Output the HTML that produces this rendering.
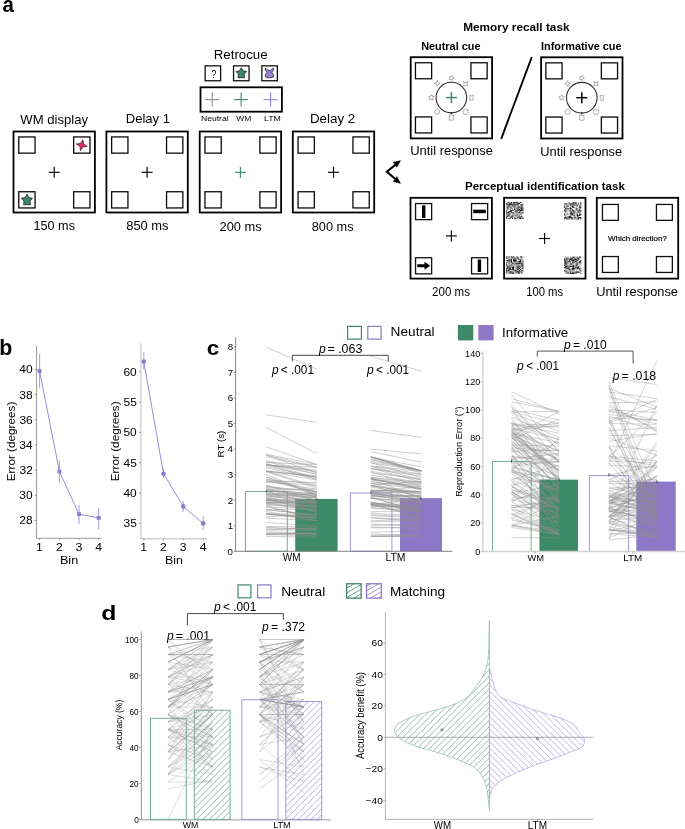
<!DOCTYPE html>
<html><head><meta charset="utf-8"><style>
html,body{margin:0;padding:0;background:#fff;width:685px;height:829px;overflow:hidden}
svg{display:block;will-change:transform}
text{font-family:"Liberation Sans", sans-serif}
</style></head><body>
<svg width="685" height="829" viewBox="0 0 685 829">
<defs><pattern id="hg" patternUnits="userSpaceOnUse" width="6.35" height="6.35"><path d="M-1,1 l2,-2 M0,6.35 l6.35,-6.35 M5.35,7.35 l2,-2" stroke="#5e9f83" stroke-width="0.75"/></pattern><pattern id="hp" patternUnits="userSpaceOnUse" width="6.35" height="6.35"><path d="M-1,1 l2,-2 M0,6.35 l6.35,-6.35 M5.35,7.35 l2,-2" stroke="#9b8fdc" stroke-width="0.75"/></pattern><pattern id="vg" patternUnits="userSpaceOnUse" width="6.3" height="6.3"><path d="M-1,1 l2,-2 M0,6.3 l6.3,-6.3 M5.3,7.3 l2,-2" stroke="#5e9f83" stroke-width="0.7"/></pattern><pattern id="vp" patternUnits="userSpaceOnUse" width="6.3" height="6.3"><path d="M-1,5.3 l2,2 M0,0 l6.3,6.3 M5.3,-1 l2,2" stroke="#9b8fdc" stroke-width="0.7"/></pattern><pattern id="lg" patternUnits="userSpaceOnUse" width="10" height="4.1" patternTransform="rotate(-30)"><path d="M0,2.05 h10" stroke="#3e8a68" stroke-width="0.75"/></pattern><pattern id="lp" patternUnits="userSpaceOnUse" width="10" height="4.1" patternTransform="rotate(-30)"><path d="M0,2.05 h10" stroke="#8d78c8" stroke-width="0.75"/></pattern></defs><text x="2.4" y="11.7" font-size="22" font-weight="bold" font-style="normal" fill="#000" textLength="11.37" lengthAdjust="spacingAndGlyphs" >a</text><rect x="13.5" y="131.5" width="81.4" height="81" fill="none" stroke="#000" stroke-width="1.8" /><rect x="18.75" y="136.95" width="16.3" height="16.2" fill="none" stroke="#0a0a0a" stroke-width="1.3" /><rect x="73.65" y="136.95" width="16.3" height="16.2" fill="none" stroke="#0a0a0a" stroke-width="1.3" /><rect x="18.75" y="191.75" width="16.3" height="16.2" fill="none" stroke="#0a0a0a" stroke-width="1.3" /><rect x="73.65" y="191.75" width="16.3" height="16.2" fill="none" stroke="#0a0a0a" stroke-width="1.3" /><line x1="48.7" y1="172.3" x2="59.7" y2="172.3" stroke="#000" stroke-width="1.15" /><line x1="54.2" y1="166.8" x2="54.2" y2="177.8" stroke="#000" stroke-width="1.15" /><rect x="106.4" y="131.5" width="81.4" height="81" fill="none" stroke="#000" stroke-width="1.8" /><rect x="111.65" y="136.95" width="16.3" height="16.2" fill="none" stroke="#0a0a0a" stroke-width="1.3" /><rect x="166.55" y="136.95" width="16.3" height="16.2" fill="none" stroke="#0a0a0a" stroke-width="1.3" /><rect x="111.65" y="191.75" width="16.3" height="16.2" fill="none" stroke="#0a0a0a" stroke-width="1.3" /><rect x="166.55" y="191.75" width="16.3" height="16.2" fill="none" stroke="#0a0a0a" stroke-width="1.3" /><line x1="141.6" y1="172.3" x2="152.6" y2="172.3" stroke="#000" stroke-width="1.15" /><line x1="147.1" y1="166.8" x2="147.1" y2="177.8" stroke="#000" stroke-width="1.15" /><rect x="199.7" y="131.5" width="81.4" height="81" fill="none" stroke="#000" stroke-width="1.8" /><rect x="204.95" y="136.95" width="16.3" height="16.2" fill="none" stroke="#0a0a0a" stroke-width="1.3" /><rect x="259.85" y="136.95" width="16.3" height="16.2" fill="none" stroke="#0a0a0a" stroke-width="1.3" /><rect x="204.95" y="191.75" width="16.3" height="16.2" fill="none" stroke="#0a0a0a" stroke-width="1.3" /><rect x="259.85" y="191.75" width="16.3" height="16.2" fill="none" stroke="#0a0a0a" stroke-width="1.3" /><line x1="234.9" y1="172.3" x2="245.9" y2="172.3" stroke="#3e8a68" stroke-width="1.15" /><line x1="240.4" y1="166.8" x2="240.4" y2="177.8" stroke="#3e8a68" stroke-width="1.15" /><rect x="292.8" y="131.5" width="81.4" height="81" fill="none" stroke="#000" stroke-width="1.8" /><rect x="298.05" y="136.95" width="16.3" height="16.2" fill="none" stroke="#0a0a0a" stroke-width="1.3" /><rect x="352.95" y="136.95" width="16.3" height="16.2" fill="none" stroke="#0a0a0a" stroke-width="1.3" /><rect x="298.05" y="191.75" width="16.3" height="16.2" fill="none" stroke="#0a0a0a" stroke-width="1.3" /><rect x="352.95" y="191.75" width="16.3" height="16.2" fill="none" stroke="#0a0a0a" stroke-width="1.3" /><line x1="328" y1="172.3" x2="339" y2="172.3" stroke="#000" stroke-width="1.15" /><line x1="333.5" y1="166.8" x2="333.5" y2="177.8" stroke="#000" stroke-width="1.15" /><text x="20.34" y="123.6" font-size="13" font-weight="normal" font-style="normal" fill="#000" textLength="67.68" lengthAdjust="spacingAndGlyphs" >WM display</text><text x="125.73" y="123.3" font-size="13" font-weight="normal" font-style="normal" fill="#000" textLength="44.31" lengthAdjust="spacingAndGlyphs" >Delay 1</text><text x="309.9" y="123.1" font-size="13" font-weight="normal" font-style="normal" fill="#000" textLength="45.37" lengthAdjust="spacingAndGlyphs" >Delay 2</text><text x="33.54" y="230.2" font-size="13" font-weight="normal" font-style="normal" fill="#000" textLength="41.42" lengthAdjust="spacingAndGlyphs" >150 ms</text><text x="126.24" y="230.4" font-size="13" font-weight="normal" font-style="normal" fill="#000" textLength="42.22" lengthAdjust="spacingAndGlyphs" >850 ms</text><text x="219.56" y="230.8" font-size="13" font-weight="normal" font-style="normal" fill="#000" textLength="42.01" lengthAdjust="spacingAndGlyphs" >200 ms</text><text x="311.74" y="230.6" font-size="13" font-weight="normal" font-style="normal" fill="#000" textLength="41.92" lengthAdjust="spacingAndGlyphs" >800 ms</text><path d="M82.96,139.74 L83.48,144.09 L87.16,146.46 L82.81,146.98 L80.44,150.66 L79.92,146.31 L76.24,143.94 L80.59,143.42Z" fill="#e8226c" stroke="#222" stroke-width="0.7" stroke-linejoin="round"/><path d="M27,194.3 L28.82,197.59 L32.52,198.31 L29.95,201.06 L30.41,204.79 L27,204.62 L23.59,204.79 L24.05,201.06 L21.48,198.31 L25.18,197.59Z" fill="#3e8a68" stroke="#1a1a1a" stroke-width="0.8" stroke-linejoin="round"/><text x="213.71" y="58.7" font-size="12.5" font-weight="normal" font-style="normal" fill="#000" textLength="53.98" lengthAdjust="spacingAndGlyphs" >Retrocue</text><rect x="205.15" y="65.85" width="15.5" height="14.9" fill="none" stroke="#111" stroke-width="1.3" /><rect x="233.55" y="65.85" width="15.5" height="14.9" fill="none" stroke="#111" stroke-width="1.3" /><rect x="261.85" y="65.85" width="15.5" height="14.9" fill="none" stroke="#111" stroke-width="1.3" /><text x="211.45" y="77.6" font-size="11" font-weight="normal" font-style="normal" fill="#000" textLength="4.77" lengthAdjust="spacingAndGlyphs" >?</text><path d="M241.3,67.7 L243.06,70.87 L246.63,71.57 L244.15,74.23 L244.59,77.83 L241.3,77.67 L238.01,77.83 L238.45,74.23 L235.97,71.57 L239.54,70.87Z" fill="#3e8a68" stroke="#1a1a1a" stroke-width="0.8" stroke-linejoin="round"/><path d="M264.9,68.9 Q265.2,67.9 266.1,68.4 Q267.6,70.6 269.4,70.7 Q271.2,70.6 272.7,68.4 Q273.6,67.9 273.9,68.9 Q273.8,70.4 271.8,72.3 Q274.3,74.6 273.3,77.0 Q269.4,79.0 265.5,77.0 Q264.5,74.6 267.0,72.3 Q265.0,70.4 264.9,68.9Z" fill="#9580d4" stroke="#1a1a1a" stroke-width="0.7" stroke-linejoin="round"/><rect x="200.5" y="87.3" width="81.4" height="24.4" fill="none" stroke="#000" stroke-width="1.8" /><line x1="205.2" y1="99.6" x2="219.2" y2="99.6" stroke="#8a8a8a" stroke-width="1.1" /><line x1="212.2" y1="92.6" x2="212.2" y2="106.6" stroke="#8a8a8a" stroke-width="1.1" /><line x1="234.1" y1="99.6" x2="248.1" y2="99.6" stroke="#3e8a68" stroke-width="1.1" /><line x1="241.1" y1="92.6" x2="241.1" y2="106.6" stroke="#3e8a68" stroke-width="1.1" /><line x1="263.6" y1="99.6" x2="277.6" y2="99.6" stroke="#9580d8" stroke-width="1.1" /><line x1="270.6" y1="92.6" x2="270.6" y2="106.6" stroke="#9580d8" stroke-width="1.1" /><text x="201" y="121.3" font-size="8" font-weight="normal" font-style="normal" fill="#000" textLength="27.57" lengthAdjust="spacingAndGlyphs" >Neutral</text><text x="236.36" y="121.3" font-size="8" font-weight="normal" font-style="normal" fill="#000" textLength="15.03" lengthAdjust="spacingAndGlyphs" >WM</text><text x="264.01" y="121.3" font-size="8" font-weight="normal" font-style="normal" fill="#000" textLength="16.89" lengthAdjust="spacingAndGlyphs" >LTM</text><path d="M395.6,164.6 L386.9,171.8 L395.6,179.3" fill="none" stroke="#000" stroke-width="2.1" stroke-linejoin="miter"/><path d="M400.6,160.6 L393.1,162.3 L396.9,167.3Z" fill="#000" stroke="#000" stroke-width="0.4" stroke-linejoin="miter"/><path d="M400.6,183.4 L396.9,176.6 L393.2,181.6Z" fill="#000" stroke="#000" stroke-width="0.4" stroke-linejoin="miter"/><text x="463.21" y="30.8" font-size="11.5" font-weight="bold" font-style="normal" fill="#000" textLength="106.38" lengthAdjust="spacingAndGlyphs" >Memory recall task</text><text x="421.17" y="49.9" font-size="11" font-weight="bold" font-style="normal" fill="#000" textLength="59.3" lengthAdjust="spacingAndGlyphs" >Neutral cue</text><text x="541.07" y="50" font-size="11" font-weight="bold" font-style="normal" fill="#000" textLength="80.5" lengthAdjust="spacingAndGlyphs" >Informative cue</text><rect x="410.7" y="57.2" width="81.4" height="81.2" fill="none" stroke="#000" stroke-width="1.8" /><rect x="415.45" y="62.75" width="16.2" height="16" fill="none" stroke="#0a0a0a" stroke-width="1.3" /><rect x="470.95" y="62.75" width="16.2" height="16" fill="none" stroke="#0a0a0a" stroke-width="1.3" /><rect x="415.45" y="116.95" width="16.2" height="16" fill="none" stroke="#0a0a0a" stroke-width="1.3" /><rect x="470.95" y="116.95" width="16.2" height="16" fill="none" stroke="#0a0a0a" stroke-width="1.3" /><circle cx="451.4" cy="97.6" r="15.3" fill="none" stroke="#2a2a2a" stroke-width="1.05"/><line x1="445.9" y1="97.6" x2="456.9" y2="97.6" stroke="#3e8a68" stroke-width="1.5" /><line x1="451.4" y1="92.1" x2="451.4" y2="103.1" stroke="#3e8a68" stroke-width="1.5" /><line x1="451.4" y1="112.2" x2="451.4" y2="114.2" stroke="#222" stroke-width="1.3" /><path d="M452.32,75.46 L452.48,77.27 L454.1,78.09 L452.42,78.8 L452.14,80.6 L450.96,79.22 L449.16,79.51 L450.1,77.95 L449.27,76.34 L451.04,76.75Z" fill="none" stroke="#7a7a7a" stroke-width="0.6" stroke-linejoin="round"/><path d="M463.31,81.09 L465.01,82.39 L466.21,82.39 L467.91,81.09 L466.91,83.39 L467.91,85.69 L463.31,85.69 L464.31,83.39Z" fill="none" stroke="#7a7a7a" stroke-width="0.6" stroke-linejoin="round"/><path d="M469.7,95 Q471.5,96.8 473.3,95 Q473.7,97 472.7,97.6 Q473.9,99.2 473.1,100.2 L469.9,100.2 Q469.1,99.2 470.3,97.6 Q469.3,97 469.7,95Z" fill="none" stroke="#7a7a7a" stroke-width="0.6" stroke-linejoin="round"/><path d="M463.21,110.01 Q465.61,108.81 468.01,110.01 Q468.41,112.31 467.41,114.21 L463.81,114.21 Q462.81,112.31 463.21,110.01Z" fill="none" stroke="#7a7a7a" stroke-width="0.6" stroke-linejoin="round"/><path d="M449.3,115.1 L453.5,115.1 L453.7,119.9 Q451.4,120.7 449.1,119.9Z" fill="none" stroke="#7a7a7a" stroke-width="0.6" stroke-linejoin="round"/><path d="M437.19,109.01 L438.54,109.95 L439.85,110.95 L439.37,112.52 L438.83,114.08 L437.19,114.11 L435.54,114.08 L435,112.52 L434.52,110.95 L435.84,109.95Z" fill="none" stroke="#7a7a7a" stroke-width="0.6" stroke-linejoin="round"/><path d="M431.3,94.6 L432.24,96.31 L434.15,96.67 L432.82,98.09 L433.06,100.03 L431.3,99.2 L429.54,100.03 L429.78,98.09 L428.45,96.67 L430.36,96.31Z" fill="none" stroke="#7a7a7a" stroke-width="0.6" stroke-linejoin="round"/><path d="M437.19,80.39 L438.04,82.54 L440.19,83.39 L438.04,84.24 L437.19,86.39 L436.34,84.24 L434.19,83.39 L436.34,82.54Z" fill="none" stroke="#7a7a7a" stroke-width="0.6" stroke-linejoin="round"/><rect x="541.1" y="57.3" width="81.4" height="81.2" fill="none" stroke="#000" stroke-width="1.8" /><rect x="545.85" y="62.85" width="16.2" height="16" fill="none" stroke="#0a0a0a" stroke-width="1.3" /><rect x="601.35" y="62.85" width="16.2" height="16" fill="none" stroke="#0a0a0a" stroke-width="1.3" /><rect x="545.85" y="117.05" width="16.2" height="16" fill="none" stroke="#0a0a0a" stroke-width="1.3" /><rect x="601.35" y="117.05" width="16.2" height="16" fill="none" stroke="#0a0a0a" stroke-width="1.3" /><circle cx="581.8" cy="97.7" r="15.3" fill="none" stroke="#2a2a2a" stroke-width="1.05"/><line x1="576.3" y1="97.7" x2="587.3" y2="97.7" stroke="#000" stroke-width="1.5" /><line x1="581.8" y1="92.2" x2="581.8" y2="103.2" stroke="#000" stroke-width="1.5" /><line x1="581.8" y1="112.3" x2="581.8" y2="114.3" stroke="#222" stroke-width="1.3" /><path d="M582.72,75.56 L582.88,77.37 L584.5,78.19 L582.82,78.9 L582.54,80.7 L581.36,79.32 L579.56,79.61 L580.5,78.05 L579.67,76.44 L581.44,76.85Z" fill="none" stroke="#7a7a7a" stroke-width="0.6" stroke-linejoin="round"/><path d="M593.71,81.19 L595.41,82.49 L596.61,82.49 L598.31,81.19 L597.31,83.49 L598.31,85.79 L593.71,85.79 L594.71,83.49Z" fill="none" stroke="#7a7a7a" stroke-width="0.6" stroke-linejoin="round"/><path d="M600.1,95.1 Q601.9,96.9 603.7,95.1 Q604.1,97.1 603.1,97.7 Q604.3,99.3 603.5,100.3 L600.3,100.3 Q599.5,99.3 600.7,97.7 Q599.7,97.1 600.1,95.1Z" fill="none" stroke="#7a7a7a" stroke-width="0.6" stroke-linejoin="round"/><path d="M593.61,110.11 Q596.01,108.91 598.41,110.11 Q598.81,112.41 597.81,114.31 L594.21,114.31 Q593.21,112.41 593.61,110.11Z" fill="none" stroke="#7a7a7a" stroke-width="0.6" stroke-linejoin="round"/><path d="M579.7,115.2 L583.9,115.2 L584.1,120 Q581.8,120.8 579.5,120Z" fill="none" stroke="#7a7a7a" stroke-width="0.6" stroke-linejoin="round"/><path d="M567.59,109.11 L568.94,110.05 L570.25,111.05 L569.77,112.62 L569.23,114.18 L567.59,114.21 L565.94,114.18 L565.4,112.62 L564.92,111.05 L566.24,110.05Z" fill="none" stroke="#7a7a7a" stroke-width="0.6" stroke-linejoin="round"/><path d="M561.7,94.7 L562.64,96.41 L564.55,96.77 L563.22,98.19 L563.46,100.13 L561.7,99.3 L559.94,100.13 L560.18,98.19 L558.85,96.77 L560.76,96.41Z" fill="none" stroke="#7a7a7a" stroke-width="0.6" stroke-linejoin="round"/><path d="M567.59,80.49 L568.44,82.64 L570.59,83.49 L568.44,84.34 L567.59,86.49 L566.74,84.34 L564.59,83.49 L566.74,82.64Z" fill="none" stroke="#7a7a7a" stroke-width="0.6" stroke-linejoin="round"/><line x1="531.8" y1="57" x2="501.2" y2="138.8" stroke="#000" stroke-width="1.9" /><text x="410.2" y="154.7" font-size="13" font-weight="normal" font-style="normal" fill="#000" textLength="82.67" lengthAdjust="spacingAndGlyphs" >Until response</text><text x="540.31" y="155.5" font-size="13" font-weight="normal" font-style="normal" fill="#000" textLength="81.86" lengthAdjust="spacingAndGlyphs" >Until response</text><text x="465.03" y="190" font-size="11.5" font-weight="bold" font-style="normal" fill="#000" textLength="159.76" lengthAdjust="spacingAndGlyphs" >Perceptual identification task</text><rect x="410.5" y="197.8" width="81.4" height="80.8" fill="none" stroke="#000" stroke-width="1.8" /><rect x="504.1" y="197.8" width="81.4" height="80.8" fill="none" stroke="#000" stroke-width="1.8" /><rect x="596.8" y="197.8" width="81.4" height="80.8" fill="none" stroke="#000" stroke-width="1.8" /><rect x="415.55" y="203.55" width="16.1" height="16.1" fill="none" stroke="#111" stroke-width="1.3" /><rect x="471.55" y="203.55" width="16.1" height="16.1" fill="none" stroke="#111" stroke-width="1.3" /><rect x="415.55" y="257.75" width="16.1" height="16.1" fill="none" stroke="#111" stroke-width="1.3" /><rect x="471.55" y="257.75" width="16.1" height="16.1" fill="none" stroke="#111" stroke-width="1.3" /><rect x="422" y="205.4" width="3.4" height="12.5" fill="#000"/><rect x="473.2" y="209.7" width="12.6" height="3.5" fill="#000"/><rect x="477.7" y="259.5" width="3.4" height="12.5" fill="#000"/><path d="M417.3,264.3 H424.5 V261.8 L430.3,265.8 L424.5,269.8 V267.3 H417.3Z" fill="#000"/><line x1="445.9" y1="235.9" x2="456.9" y2="235.9" stroke="#000" stroke-width="1.15" /><line x1="451.4" y1="230.4" x2="451.4" y2="241.4" stroke="#000" stroke-width="1.15" /><rect x="507.35" y="201.9" width="2.3" height="1.15" fill="#666"/><rect x="510.8" y="201.9" width="1.15" height="1.15" fill="#000"/><rect x="511.95" y="201.9" width="1.15" height="1.15" fill="#ccc"/><rect x="513.1" y="201.9" width="1.15" height="1.15" fill="#333"/><rect x="514.25" y="201.9" width="1.15" height="1.15" fill="#000"/><rect x="515.4" y="201.9" width="1.15" height="1.15" fill="#333"/><rect x="516.55" y="201.9" width="1.15" height="1.15" fill="#000"/><rect x="517.7" y="201.9" width="1.15" height="1.15" fill="#666"/><rect x="518.85" y="201.9" width="1.15" height="1.15" fill="#ccc"/><rect x="520" y="201.9" width="1.15" height="1.15" fill="#333"/><rect x="521.15" y="201.9" width="1.15" height="1.15" fill="#999"/><rect x="506.2" y="203.05" width="1.15" height="1.15" fill="#000"/><rect x="508.5" y="203.05" width="1.15" height="1.15" fill="#333"/><rect x="509.65" y="203.05" width="1.15" height="1.15" fill="#000"/><rect x="510.8" y="203.05" width="1.15" height="1.15" fill="#333"/><rect x="511.95" y="203.05" width="1.15" height="1.15" fill="#999"/><rect x="513.1" y="203.05" width="1.15" height="1.15" fill="#666"/><rect x="514.25" y="203.05" width="1.15" height="1.15" fill="#333"/><rect x="515.4" y="203.05" width="1.15" height="1.15" fill="#999"/><rect x="516.55" y="203.05" width="1.15" height="1.15" fill="#333"/><rect x="517.7" y="203.05" width="1.15" height="1.15" fill="#000"/><rect x="518.85" y="203.05" width="1.15" height="1.15" fill="#333"/><rect x="522.3" y="203.05" width="1.15" height="1.15" fill="#ccc"/><rect x="506.2" y="204.2" width="2.3" height="1.15" fill="#333"/><rect x="508.5" y="204.2" width="2.3" height="1.15" fill="#000"/><rect x="510.8" y="204.2" width="4.6" height="1.15" fill="#333"/><rect x="515.4" y="204.2" width="2.3" height="1.15" fill="#666"/><rect x="517.7" y="204.2" width="1.15" height="1.15" fill="#333"/><rect x="520" y="204.2" width="3.45" height="1.15" fill="#333"/><rect x="506.2" y="205.35" width="1.15" height="1.15" fill="#999"/><rect x="507.35" y="205.35" width="1.15" height="1.15" fill="#666"/><rect x="508.5" y="205.35" width="1.15" height="1.15" fill="#000"/><rect x="509.65" y="205.35" width="1.15" height="1.15" fill="#666"/><rect x="510.8" y="205.35" width="1.15" height="1.15" fill="#999"/><rect x="511.95" y="205.35" width="2.3" height="1.15" fill="#333"/><rect x="514.25" y="205.35" width="1.15" height="1.15" fill="#666"/><rect x="515.4" y="205.35" width="1.15" height="1.15" fill="#000"/><rect x="516.55" y="205.35" width="2.3" height="1.15" fill="#666"/><rect x="521.15" y="205.35" width="1.15" height="1.15" fill="#000"/><rect x="506.2" y="206.5" width="1.15" height="1.15" fill="#666"/><rect x="507.35" y="206.5" width="1.15" height="1.15" fill="#000"/><rect x="508.5" y="206.5" width="3.45" height="1.15" fill="#666"/><rect x="511.95" y="206.5" width="1.15" height="1.15" fill="#ccc"/><rect x="513.1" y="206.5" width="1.15" height="1.15" fill="#666"/><rect x="514.25" y="206.5" width="1.15" height="1.15" fill="#333"/><rect x="515.4" y="206.5" width="2.3" height="1.15" fill="#ccc"/><rect x="517.7" y="206.5" width="1.15" height="1.15" fill="#333"/><rect x="518.85" y="206.5" width="1.15" height="1.15" fill="#000"/><rect x="520" y="206.5" width="1.15" height="1.15" fill="#666"/><rect x="521.15" y="206.5" width="1.15" height="1.15" fill="#000"/><rect x="522.3" y="206.5" width="1.15" height="1.15" fill="#666"/><rect x="506.2" y="207.65" width="1.15" height="1.15" fill="#999"/><rect x="507.35" y="207.65" width="1.15" height="1.15" fill="#000"/><rect x="509.65" y="207.65" width="1.15" height="1.15" fill="#999"/><rect x="510.8" y="207.65" width="1.15" height="1.15" fill="#666"/><rect x="511.95" y="207.65" width="1.15" height="1.15" fill="#999"/><rect x="514.25" y="207.65" width="1.15" height="1.15" fill="#000"/><rect x="515.4" y="207.65" width="1.15" height="1.15" fill="#ccc"/><rect x="516.55" y="207.65" width="1.15" height="1.15" fill="#000"/><rect x="517.7" y="207.65" width="1.15" height="1.15" fill="#333"/><rect x="520" y="207.65" width="1.15" height="1.15" fill="#333"/><rect x="521.15" y="207.65" width="1.15" height="1.15" fill="#000"/><rect x="522.3" y="207.65" width="1.15" height="1.15" fill="#333"/><rect x="506.2" y="208.8" width="1.15" height="1.15" fill="#ccc"/><rect x="507.35" y="208.8" width="1.15" height="1.15" fill="#666"/><rect x="509.65" y="208.8" width="1.15" height="1.15" fill="#666"/><rect x="511.95" y="208.8" width="1.15" height="1.15" fill="#666"/><rect x="513.1" y="208.8" width="1.15" height="1.15" fill="#ccc"/><rect x="514.25" y="208.8" width="1.15" height="1.15" fill="#000"/><rect x="516.55" y="208.8" width="2.3" height="1.15" fill="#666"/><rect x="518.85" y="208.8" width="1.15" height="1.15" fill="#000"/><rect x="520" y="208.8" width="1.15" height="1.15" fill="#999"/><rect x="521.15" y="208.8" width="1.15" height="1.15" fill="#000"/><rect x="522.3" y="208.8" width="1.15" height="1.15" fill="#333"/><rect x="506.2" y="209.95" width="1.15" height="1.15" fill="#666"/><rect x="509.65" y="209.95" width="1.15" height="1.15" fill="#666"/><rect x="510.8" y="209.95" width="1.15" height="1.15" fill="#333"/><rect x="511.95" y="209.95" width="2.3" height="1.15" fill="#666"/><rect x="515.4" y="209.95" width="1.15" height="1.15" fill="#000"/><rect x="516.55" y="209.95" width="3.45" height="1.15" fill="#666"/><rect x="520" y="209.95" width="1.15" height="1.15" fill="#333"/><rect x="521.15" y="209.95" width="1.15" height="1.15" fill="#000"/><rect x="522.3" y="209.95" width="1.15" height="1.15" fill="#333"/><rect x="506.2" y="211.1" width="1.15" height="1.15" fill="#666"/><rect x="507.35" y="211.1" width="1.15" height="1.15" fill="#ccc"/><rect x="508.5" y="211.1" width="1.15" height="1.15" fill="#333"/><rect x="509.65" y="211.1" width="2.3" height="1.15" fill="#000"/><rect x="514.25" y="211.1" width="1.15" height="1.15" fill="#999"/><rect x="515.4" y="211.1" width="1.15" height="1.15" fill="#000"/><rect x="516.55" y="211.1" width="1.15" height="1.15" fill="#333"/><rect x="518.85" y="211.1" width="2.3" height="1.15" fill="#666"/><rect x="521.15" y="211.1" width="1.15" height="1.15" fill="#ccc"/><rect x="522.3" y="211.1" width="1.15" height="1.15" fill="#999"/><rect x="506.2" y="212.25" width="1.15" height="1.15" fill="#333"/><rect x="507.35" y="212.25" width="2.3" height="1.15" fill="#000"/><rect x="509.65" y="212.25" width="1.15" height="1.15" fill="#ccc"/><rect x="510.8" y="212.25" width="1.15" height="1.15" fill="#666"/><rect x="511.95" y="212.25" width="2.3" height="1.15" fill="#333"/><rect x="515.4" y="212.25" width="1.15" height="1.15" fill="#333"/><rect x="516.55" y="212.25" width="1.15" height="1.15" fill="#999"/><rect x="517.7" y="212.25" width="1.15" height="1.15" fill="#000"/><rect x="518.85" y="212.25" width="1.15" height="1.15" fill="#333"/><rect x="520" y="212.25" width="1.15" height="1.15" fill="#999"/><rect x="521.15" y="212.25" width="1.15" height="1.15" fill="#666"/><rect x="522.3" y="212.25" width="1.15" height="1.15" fill="#333"/><rect x="506.2" y="213.4" width="1.15" height="1.15" fill="#000"/><rect x="507.35" y="213.4" width="1.15" height="1.15" fill="#999"/><rect x="508.5" y="213.4" width="1.15" height="1.15" fill="#666"/><rect x="509.65" y="213.4" width="1.15" height="1.15" fill="#333"/><rect x="510.8" y="213.4" width="1.15" height="1.15" fill="#ccc"/><rect x="513.1" y="213.4" width="1.15" height="1.15" fill="#333"/><rect x="515.4" y="213.4" width="2.3" height="1.15" fill="#ccc"/><rect x="517.7" y="213.4" width="1.15" height="1.15" fill="#666"/><rect x="518.85" y="213.4" width="1.15" height="1.15" fill="#ccc"/><rect x="520" y="213.4" width="2.3" height="1.15" fill="#666"/><rect x="522.3" y="213.4" width="1.15" height="1.15" fill="#ccc"/><rect x="506.2" y="214.55" width="1.15" height="1.15" fill="#999"/><rect x="507.35" y="214.55" width="1.15" height="1.15" fill="#333"/><rect x="508.5" y="214.55" width="1.15" height="1.15" fill="#000"/><rect x="509.65" y="214.55" width="1.15" height="1.15" fill="#999"/><rect x="511.95" y="214.55" width="1.15" height="1.15" fill="#333"/><rect x="513.1" y="214.55" width="1.15" height="1.15" fill="#ccc"/><rect x="514.25" y="214.55" width="1.15" height="1.15" fill="#666"/><rect x="515.4" y="214.55" width="1.15" height="1.15" fill="#333"/><rect x="516.55" y="214.55" width="1.15" height="1.15" fill="#000"/><rect x="517.7" y="214.55" width="1.15" height="1.15" fill="#ccc"/><rect x="518.85" y="214.55" width="1.15" height="1.15" fill="#666"/><rect x="506.2" y="215.7" width="1.15" height="1.15" fill="#666"/><rect x="507.35" y="215.7" width="1.15" height="1.15" fill="#000"/><rect x="508.5" y="215.7" width="1.15" height="1.15" fill="#666"/><rect x="510.8" y="215.7" width="1.15" height="1.15" fill="#000"/><rect x="511.95" y="215.7" width="2.3" height="1.15" fill="#666"/><rect x="515.4" y="215.7" width="1.15" height="1.15" fill="#666"/><rect x="516.55" y="215.7" width="1.15" height="1.15" fill="#ccc"/><rect x="517.7" y="215.7" width="3.45" height="1.15" fill="#666"/><rect x="521.15" y="215.7" width="1.15" height="1.15" fill="#333"/><rect x="506.2" y="216.85" width="1.15" height="1.15" fill="#000"/><rect x="507.35" y="216.85" width="1.15" height="1.15" fill="#ccc"/><rect x="509.65" y="216.85" width="3.45" height="1.15" fill="#666"/><rect x="513.1" y="216.85" width="1.15" height="1.15" fill="#ccc"/><rect x="514.25" y="216.85" width="1.15" height="1.15" fill="#666"/><rect x="516.55" y="216.85" width="4.6" height="1.15" fill="#666"/><rect x="521.15" y="216.85" width="1.15" height="1.15" fill="#999"/><rect x="522.3" y="216.85" width="1.15" height="1.15" fill="#666"/><rect x="506.2" y="218" width="1.15" height="1.15" fill="#333"/><rect x="507.35" y="218" width="1.15" height="1.15" fill="#ccc"/><rect x="508.5" y="218" width="2.3" height="1.15" fill="#666"/><rect x="511.95" y="218" width="1.15" height="1.15" fill="#333"/><rect x="514.25" y="218" width="2.3" height="1.15" fill="#333"/><rect x="516.55" y="218" width="1.15" height="1.15" fill="#666"/><rect x="517.7" y="218" width="1.15" height="1.15" fill="#ccc"/><rect x="518.85" y="218" width="1.15" height="1.15" fill="#666"/><rect x="520" y="218" width="1.15" height="1.15" fill="#000"/><rect x="521.15" y="218" width="1.15" height="1.15" fill="#999"/><rect x="522.3" y="218" width="1.15" height="1.15" fill="#333"/><rect x="567.55" y="202.2" width="1.15" height="1.15" fill="#999"/><rect x="568.7" y="202.2" width="1.15" height="1.15" fill="#666"/><rect x="572.15" y="202.2" width="1.15" height="1.15" fill="#666"/><rect x="573.3" y="202.2" width="1.15" height="1.15" fill="#000"/><rect x="574.45" y="202.2" width="2.3" height="1.15" fill="#333"/><rect x="577.9" y="202.2" width="1.15" height="1.15" fill="#ccc"/><rect x="580.2" y="202.2" width="1.15" height="1.15" fill="#333"/><rect x="564.1" y="203.35" width="2.3" height="1.15" fill="#333"/><rect x="566.4" y="203.35" width="1.15" height="1.15" fill="#000"/><rect x="567.55" y="203.35" width="1.15" height="1.15" fill="#ccc"/><rect x="568.7" y="203.35" width="2.3" height="1.15" fill="#333"/><rect x="571" y="203.35" width="1.15" height="1.15" fill="#000"/><rect x="572.15" y="203.35" width="1.15" height="1.15" fill="#333"/><rect x="573.3" y="203.35" width="1.15" height="1.15" fill="#000"/><rect x="574.45" y="203.35" width="1.15" height="1.15" fill="#666"/><rect x="575.6" y="203.35" width="1.15" height="1.15" fill="#333"/><rect x="576.75" y="203.35" width="1.15" height="1.15" fill="#ccc"/><rect x="577.9" y="203.35" width="1.15" height="1.15" fill="#333"/><rect x="580.2" y="203.35" width="1.15" height="1.15" fill="#000"/><rect x="564.1" y="204.5" width="1.15" height="1.15" fill="#999"/><rect x="565.25" y="204.5" width="1.15" height="1.15" fill="#ccc"/><rect x="566.4" y="204.5" width="1.15" height="1.15" fill="#666"/><rect x="567.55" y="204.5" width="1.15" height="1.15" fill="#999"/><rect x="569.85" y="204.5" width="1.15" height="1.15" fill="#000"/><rect x="572.15" y="204.5" width="2.3" height="1.15" fill="#333"/><rect x="574.45" y="204.5" width="1.15" height="1.15" fill="#666"/><rect x="575.6" y="204.5" width="1.15" height="1.15" fill="#000"/><rect x="576.75" y="204.5" width="1.15" height="1.15" fill="#666"/><rect x="577.9" y="204.5" width="1.15" height="1.15" fill="#999"/><rect x="579.05" y="204.5" width="1.15" height="1.15" fill="#666"/><rect x="580.2" y="204.5" width="1.15" height="1.15" fill="#999"/><rect x="564.1" y="205.65" width="1.15" height="1.15" fill="#000"/><rect x="566.4" y="205.65" width="1.15" height="1.15" fill="#666"/><rect x="567.55" y="205.65" width="1.15" height="1.15" fill="#000"/><rect x="571" y="205.65" width="1.15" height="1.15" fill="#666"/><rect x="572.15" y="205.65" width="1.15" height="1.15" fill="#000"/><rect x="573.3" y="205.65" width="1.15" height="1.15" fill="#666"/><rect x="576.75" y="205.65" width="1.15" height="1.15" fill="#666"/><rect x="579.05" y="205.65" width="2.3" height="1.15" fill="#666"/><rect x="564.1" y="206.8" width="1.15" height="1.15" fill="#333"/><rect x="565.25" y="206.8" width="2.3" height="1.15" fill="#999"/><rect x="569.85" y="206.8" width="1.15" height="1.15" fill="#666"/><rect x="571" y="206.8" width="1.15" height="1.15" fill="#ccc"/><rect x="572.15" y="206.8" width="2.3" height="1.15" fill="#333"/><rect x="575.6" y="206.8" width="1.15" height="1.15" fill="#999"/><rect x="577.9" y="206.8" width="1.15" height="1.15" fill="#ccc"/><rect x="579.05" y="206.8" width="2.3" height="1.15" fill="#333"/><rect x="565.25" y="207.95" width="1.15" height="1.15" fill="#000"/><rect x="566.4" y="207.95" width="1.15" height="1.15" fill="#666"/><rect x="567.55" y="207.95" width="1.15" height="1.15" fill="#000"/><rect x="568.7" y="207.95" width="1.15" height="1.15" fill="#999"/><rect x="569.85" y="207.95" width="1.15" height="1.15" fill="#000"/><rect x="571" y="207.95" width="1.15" height="1.15" fill="#666"/><rect x="575.6" y="207.95" width="1.15" height="1.15" fill="#333"/><rect x="576.75" y="207.95" width="1.15" height="1.15" fill="#666"/><rect x="579.05" y="207.95" width="2.3" height="1.15" fill="#999"/><rect x="564.1" y="209.1" width="1.15" height="1.15" fill="#999"/><rect x="565.25" y="209.1" width="1.15" height="1.15" fill="#333"/><rect x="566.4" y="209.1" width="1.15" height="1.15" fill="#ccc"/><rect x="567.55" y="209.1" width="1.15" height="1.15" fill="#666"/><rect x="568.7" y="209.1" width="1.15" height="1.15" fill="#ccc"/><rect x="569.85" y="209.1" width="2.3" height="1.15" fill="#999"/><rect x="572.15" y="209.1" width="1.15" height="1.15" fill="#333"/><rect x="575.6" y="209.1" width="2.3" height="1.15" fill="#666"/><rect x="577.9" y="209.1" width="1.15" height="1.15" fill="#ccc"/><rect x="579.05" y="209.1" width="1.15" height="1.15" fill="#666"/><rect x="580.2" y="209.1" width="1.15" height="1.15" fill="#999"/><rect x="564.1" y="210.25" width="1.15" height="1.15" fill="#000"/><rect x="565.25" y="210.25" width="2.3" height="1.15" fill="#666"/><rect x="567.55" y="210.25" width="1.15" height="1.15" fill="#ccc"/><rect x="568.7" y="210.25" width="1.15" height="1.15" fill="#666"/><rect x="569.85" y="210.25" width="1.15" height="1.15" fill="#333"/><rect x="571" y="210.25" width="1.15" height="1.15" fill="#ccc"/><rect x="572.15" y="210.25" width="2.3" height="1.15" fill="#000"/><rect x="575.6" y="210.25" width="1.15" height="1.15" fill="#ccc"/><rect x="576.75" y="210.25" width="1.15" height="1.15" fill="#333"/><rect x="577.9" y="210.25" width="1.15" height="1.15" fill="#666"/><rect x="579.05" y="210.25" width="1.15" height="1.15" fill="#000"/><rect x="580.2" y="210.25" width="1.15" height="1.15" fill="#333"/><rect x="564.1" y="211.4" width="1.15" height="1.15" fill="#999"/><rect x="565.25" y="211.4" width="1.15" height="1.15" fill="#000"/><rect x="566.4" y="211.4" width="1.15" height="1.15" fill="#ccc"/><rect x="569.85" y="211.4" width="1.15" height="1.15" fill="#666"/><rect x="571" y="211.4" width="1.15" height="1.15" fill="#333"/><rect x="572.15" y="211.4" width="1.15" height="1.15" fill="#ccc"/><rect x="573.3" y="211.4" width="1.15" height="1.15" fill="#000"/><rect x="574.45" y="211.4" width="1.15" height="1.15" fill="#333"/><rect x="575.6" y="211.4" width="1.15" height="1.15" fill="#ccc"/><rect x="576.75" y="211.4" width="1.15" height="1.15" fill="#666"/><rect x="577.9" y="211.4" width="1.15" height="1.15" fill="#333"/><rect x="579.05" y="211.4" width="2.3" height="1.15" fill="#666"/><rect x="564.1" y="212.55" width="1.15" height="1.15" fill="#ccc"/><rect x="566.4" y="212.55" width="1.15" height="1.15" fill="#ccc"/><rect x="569.85" y="212.55" width="2.3" height="1.15" fill="#000"/><rect x="572.15" y="212.55" width="1.15" height="1.15" fill="#333"/><rect x="573.3" y="212.55" width="2.3" height="1.15" fill="#666"/><rect x="576.75" y="212.55" width="1.15" height="1.15" fill="#666"/><rect x="579.05" y="212.55" width="1.15" height="1.15" fill="#666"/><rect x="564.1" y="213.7" width="1.15" height="1.15" fill="#000"/><rect x="565.25" y="213.7" width="1.15" height="1.15" fill="#ccc"/><rect x="566.4" y="213.7" width="2.3" height="1.15" fill="#666"/><rect x="569.85" y="213.7" width="1.15" height="1.15" fill="#333"/><rect x="571" y="213.7" width="2.3" height="1.15" fill="#000"/><rect x="573.3" y="213.7" width="1.15" height="1.15" fill="#666"/><rect x="575.6" y="213.7" width="1.15" height="1.15" fill="#ccc"/><rect x="576.75" y="213.7" width="1.15" height="1.15" fill="#000"/><rect x="579.05" y="213.7" width="1.15" height="1.15" fill="#333"/><rect x="580.2" y="213.7" width="1.15" height="1.15" fill="#000"/><rect x="564.1" y="214.85" width="2.3" height="1.15" fill="#999"/><rect x="568.7" y="214.85" width="1.15" height="1.15" fill="#ccc"/><rect x="569.85" y="214.85" width="1.15" height="1.15" fill="#999"/><rect x="571" y="214.85" width="1.15" height="1.15" fill="#ccc"/><rect x="572.15" y="214.85" width="1.15" height="1.15" fill="#999"/><rect x="573.3" y="214.85" width="1.15" height="1.15" fill="#333"/><rect x="574.45" y="214.85" width="1.15" height="1.15" fill="#666"/><rect x="575.6" y="214.85" width="1.15" height="1.15" fill="#ccc"/><rect x="576.75" y="214.85" width="1.15" height="1.15" fill="#000"/><rect x="577.9" y="214.85" width="1.15" height="1.15" fill="#666"/><rect x="579.05" y="214.85" width="1.15" height="1.15" fill="#000"/><rect x="580.2" y="214.85" width="1.15" height="1.15" fill="#999"/><rect x="565.25" y="216" width="1.15" height="1.15" fill="#666"/><rect x="566.4" y="216" width="1.15" height="1.15" fill="#ccc"/><rect x="567.55" y="216" width="1.15" height="1.15" fill="#666"/><rect x="568.7" y="216" width="2.3" height="1.15" fill="#333"/><rect x="571" y="216" width="1.15" height="1.15" fill="#ccc"/><rect x="573.3" y="216" width="1.15" height="1.15" fill="#ccc"/><rect x="574.45" y="216" width="1.15" height="1.15" fill="#666"/><rect x="576.75" y="216" width="1.15" height="1.15" fill="#333"/><rect x="577.9" y="216" width="1.15" height="1.15" fill="#999"/><rect x="564.1" y="217.15" width="2.3" height="1.15" fill="#000"/><rect x="566.4" y="217.15" width="1.15" height="1.15" fill="#333"/><rect x="567.55" y="217.15" width="1.15" height="1.15" fill="#666"/><rect x="568.7" y="217.15" width="3.45" height="1.15" fill="#000"/><rect x="572.15" y="217.15" width="1.15" height="1.15" fill="#666"/><rect x="573.3" y="217.15" width="1.15" height="1.15" fill="#999"/><rect x="574.45" y="217.15" width="1.15" height="1.15" fill="#000"/><rect x="575.6" y="217.15" width="1.15" height="1.15" fill="#999"/><rect x="576.75" y="217.15" width="1.15" height="1.15" fill="#ccc"/><rect x="577.9" y="217.15" width="3.45" height="1.15" fill="#000"/><rect x="564.1" y="218.3" width="1.15" height="1.15" fill="#333"/><rect x="566.4" y="218.3" width="1.15" height="1.15" fill="#000"/><rect x="567.55" y="218.3" width="1.15" height="1.15" fill="#333"/><rect x="568.7" y="218.3" width="1.15" height="1.15" fill="#666"/><rect x="569.85" y="218.3" width="1.15" height="1.15" fill="#ccc"/><rect x="571" y="218.3" width="2.3" height="1.15" fill="#333"/><rect x="574.45" y="218.3" width="1.15" height="1.15" fill="#333"/><rect x="575.6" y="218.3" width="1.15" height="1.15" fill="#999"/><rect x="576.75" y="218.3" width="1.15" height="1.15" fill="#333"/><rect x="577.9" y="218.3" width="1.15" height="1.15" fill="#000"/><rect x="580.2" y="218.3" width="1.15" height="1.15" fill="#333"/><rect x="506.2" y="256.4" width="1.15" height="1.15" fill="#000"/><rect x="508.5" y="256.4" width="1.15" height="1.15" fill="#000"/><rect x="509.65" y="256.4" width="1.15" height="1.15" fill="#999"/><rect x="510.8" y="256.4" width="1.15" height="1.15" fill="#000"/><rect x="511.95" y="256.4" width="1.15" height="1.15" fill="#666"/><rect x="513.1" y="256.4" width="1.15" height="1.15" fill="#000"/><rect x="516.55" y="256.4" width="1.15" height="1.15" fill="#000"/><rect x="517.7" y="256.4" width="1.15" height="1.15" fill="#999"/><rect x="520" y="256.4" width="1.15" height="1.15" fill="#333"/><rect x="521.15" y="256.4" width="1.15" height="1.15" fill="#000"/><rect x="522.3" y="256.4" width="1.15" height="1.15" fill="#999"/><rect x="506.2" y="257.55" width="1.15" height="1.15" fill="#000"/><rect x="507.35" y="257.55" width="1.15" height="1.15" fill="#666"/><rect x="509.65" y="257.55" width="2.3" height="1.15" fill="#ccc"/><rect x="511.95" y="257.55" width="2.3" height="1.15" fill="#666"/><rect x="514.25" y="257.55" width="1.15" height="1.15" fill="#000"/><rect x="515.4" y="257.55" width="1.15" height="1.15" fill="#333"/><rect x="516.55" y="257.55" width="1.15" height="1.15" fill="#666"/><rect x="517.7" y="257.55" width="1.15" height="1.15" fill="#333"/><rect x="521.15" y="257.55" width="1.15" height="1.15" fill="#666"/><rect x="508.5" y="258.7" width="1.15" height="1.15" fill="#333"/><rect x="509.65" y="258.7" width="1.15" height="1.15" fill="#666"/><rect x="510.8" y="258.7" width="1.15" height="1.15" fill="#000"/><rect x="513.1" y="258.7" width="1.15" height="1.15" fill="#333"/><rect x="514.25" y="258.7" width="2.3" height="1.15" fill="#666"/><rect x="517.7" y="258.7" width="2.3" height="1.15" fill="#333"/><rect x="520" y="258.7" width="1.15" height="1.15" fill="#666"/><rect x="521.15" y="258.7" width="1.15" height="1.15" fill="#ccc"/><rect x="522.3" y="258.7" width="1.15" height="1.15" fill="#999"/><rect x="506.2" y="259.85" width="2.3" height="1.15" fill="#333"/><rect x="508.5" y="259.85" width="1.15" height="1.15" fill="#000"/><rect x="509.65" y="259.85" width="1.15" height="1.15" fill="#666"/><rect x="510.8" y="259.85" width="1.15" height="1.15" fill="#000"/><rect x="513.1" y="259.85" width="3.45" height="1.15" fill="#000"/><rect x="518.85" y="259.85" width="1.15" height="1.15" fill="#ccc"/><rect x="520" y="259.85" width="1.15" height="1.15" fill="#333"/><rect x="521.15" y="259.85" width="1.15" height="1.15" fill="#999"/><rect x="522.3" y="259.85" width="1.15" height="1.15" fill="#ccc"/><rect x="506.2" y="261" width="1.15" height="1.15" fill="#ccc"/><rect x="507.35" y="261" width="1.15" height="1.15" fill="#666"/><rect x="508.5" y="261" width="1.15" height="1.15" fill="#000"/><rect x="510.8" y="261" width="1.15" height="1.15" fill="#000"/><rect x="513.1" y="261" width="1.15" height="1.15" fill="#999"/><rect x="514.25" y="261" width="1.15" height="1.15" fill="#000"/><rect x="515.4" y="261" width="1.15" height="1.15" fill="#333"/><rect x="516.55" y="261" width="1.15" height="1.15" fill="#999"/><rect x="517.7" y="261" width="1.15" height="1.15" fill="#333"/><rect x="518.85" y="261" width="2.3" height="1.15" fill="#000"/><rect x="521.15" y="261" width="1.15" height="1.15" fill="#ccc"/><rect x="522.3" y="261" width="1.15" height="1.15" fill="#333"/><rect x="506.2" y="262.15" width="1.15" height="1.15" fill="#333"/><rect x="508.5" y="262.15" width="1.15" height="1.15" fill="#999"/><rect x="509.65" y="262.15" width="1.15" height="1.15" fill="#666"/><rect x="510.8" y="262.15" width="1.15" height="1.15" fill="#333"/><rect x="511.95" y="262.15" width="2.3" height="1.15" fill="#666"/><rect x="515.4" y="262.15" width="1.15" height="1.15" fill="#666"/><rect x="516.55" y="262.15" width="2.3" height="1.15" fill="#999"/><rect x="518.85" y="262.15" width="1.15" height="1.15" fill="#333"/><rect x="520" y="262.15" width="2.3" height="1.15" fill="#666"/><rect x="522.3" y="262.15" width="1.15" height="1.15" fill="#999"/><rect x="506.2" y="263.3" width="1.15" height="1.15" fill="#666"/><rect x="508.5" y="263.3" width="1.15" height="1.15" fill="#000"/><rect x="511.95" y="263.3" width="2.3" height="1.15" fill="#333"/><rect x="514.25" y="263.3" width="1.15" height="1.15" fill="#999"/><rect x="515.4" y="263.3" width="4.6" height="1.15" fill="#000"/><rect x="520" y="263.3" width="3.45" height="1.15" fill="#333"/><rect x="506.2" y="264.45" width="1.15" height="1.15" fill="#000"/><rect x="507.35" y="264.45" width="2.3" height="1.15" fill="#ccc"/><rect x="509.65" y="264.45" width="1.15" height="1.15" fill="#666"/><rect x="510.8" y="264.45" width="1.15" height="1.15" fill="#000"/><rect x="511.95" y="264.45" width="1.15" height="1.15" fill="#999"/><rect x="513.1" y="264.45" width="1.15" height="1.15" fill="#ccc"/><rect x="514.25" y="264.45" width="1.15" height="1.15" fill="#666"/><rect x="516.55" y="264.45" width="1.15" height="1.15" fill="#999"/><rect x="517.7" y="264.45" width="1.15" height="1.15" fill="#666"/><rect x="518.85" y="264.45" width="2.3" height="1.15" fill="#ccc"/><rect x="521.15" y="264.45" width="1.15" height="1.15" fill="#000"/><rect x="522.3" y="264.45" width="1.15" height="1.15" fill="#333"/><rect x="506.2" y="265.6" width="2.3" height="1.15" fill="#333"/><rect x="508.5" y="265.6" width="1.15" height="1.15" fill="#000"/><rect x="509.65" y="265.6" width="1.15" height="1.15" fill="#666"/><rect x="510.8" y="265.6" width="1.15" height="1.15" fill="#999"/><rect x="511.95" y="265.6" width="1.15" height="1.15" fill="#ccc"/><rect x="513.1" y="265.6" width="1.15" height="1.15" fill="#333"/><rect x="515.4" y="265.6" width="1.15" height="1.15" fill="#666"/><rect x="516.55" y="265.6" width="1.15" height="1.15" fill="#000"/><rect x="517.7" y="265.6" width="1.15" height="1.15" fill="#666"/><rect x="518.85" y="265.6" width="1.15" height="1.15" fill="#333"/><rect x="520" y="265.6" width="1.15" height="1.15" fill="#666"/><rect x="521.15" y="265.6" width="1.15" height="1.15" fill="#333"/><rect x="522.3" y="265.6" width="1.15" height="1.15" fill="#000"/><rect x="506.2" y="266.75" width="1.15" height="1.15" fill="#ccc"/><rect x="507.35" y="266.75" width="1.15" height="1.15" fill="#000"/><rect x="508.5" y="266.75" width="3.45" height="1.15" fill="#666"/><rect x="511.95" y="266.75" width="2.3" height="1.15" fill="#000"/><rect x="514.25" y="266.75" width="2.3" height="1.15" fill="#ccc"/><rect x="516.55" y="266.75" width="1.15" height="1.15" fill="#333"/><rect x="517.7" y="266.75" width="1.15" height="1.15" fill="#000"/><rect x="518.85" y="266.75" width="2.3" height="1.15" fill="#666"/><rect x="521.15" y="266.75" width="1.15" height="1.15" fill="#ccc"/><rect x="522.3" y="266.75" width="1.15" height="1.15" fill="#333"/><rect x="506.2" y="267.9" width="1.15" height="1.15" fill="#333"/><rect x="507.35" y="267.9" width="1.15" height="1.15" fill="#000"/><rect x="508.5" y="267.9" width="1.15" height="1.15" fill="#333"/><rect x="509.65" y="267.9" width="1.15" height="1.15" fill="#000"/><rect x="511.95" y="267.9" width="1.15" height="1.15" fill="#333"/><rect x="513.1" y="267.9" width="1.15" height="1.15" fill="#000"/><rect x="515.4" y="267.9" width="1.15" height="1.15" fill="#999"/><rect x="516.55" y="267.9" width="2.3" height="1.15" fill="#666"/><rect x="518.85" y="267.9" width="1.15" height="1.15" fill="#333"/><rect x="520" y="267.9" width="1.15" height="1.15" fill="#ccc"/><rect x="521.15" y="267.9" width="2.3" height="1.15" fill="#666"/><rect x="506.2" y="269.05" width="1.15" height="1.15" fill="#000"/><rect x="507.35" y="269.05" width="1.15" height="1.15" fill="#ccc"/><rect x="508.5" y="269.05" width="4.6" height="1.15" fill="#333"/><rect x="513.1" y="269.05" width="1.15" height="1.15" fill="#000"/><rect x="515.4" y="269.05" width="1.15" height="1.15" fill="#999"/><rect x="516.55" y="269.05" width="1.15" height="1.15" fill="#666"/><rect x="517.7" y="269.05" width="1.15" height="1.15" fill="#000"/><rect x="518.85" y="269.05" width="1.15" height="1.15" fill="#ccc"/><rect x="520" y="269.05" width="1.15" height="1.15" fill="#000"/><rect x="521.15" y="269.05" width="1.15" height="1.15" fill="#ccc"/><rect x="522.3" y="269.05" width="1.15" height="1.15" fill="#999"/><rect x="506.2" y="270.2" width="1.15" height="1.15" fill="#333"/><rect x="507.35" y="270.2" width="2.3" height="1.15" fill="#000"/><rect x="513.1" y="270.2" width="1.15" height="1.15" fill="#666"/><rect x="514.25" y="270.2" width="2.3" height="1.15" fill="#000"/><rect x="516.55" y="270.2" width="1.15" height="1.15" fill="#333"/><rect x="517.7" y="270.2" width="1.15" height="1.15" fill="#ccc"/><rect x="518.85" y="270.2" width="1.15" height="1.15" fill="#000"/><rect x="520" y="270.2" width="1.15" height="1.15" fill="#ccc"/><rect x="521.15" y="270.2" width="1.15" height="1.15" fill="#000"/><rect x="522.3" y="270.2" width="1.15" height="1.15" fill="#333"/><rect x="506.2" y="271.35" width="1.15" height="1.15" fill="#000"/><rect x="507.35" y="271.35" width="1.15" height="1.15" fill="#ccc"/><rect x="508.5" y="271.35" width="1.15" height="1.15" fill="#999"/><rect x="509.65" y="271.35" width="2.3" height="1.15" fill="#000"/><rect x="511.95" y="271.35" width="1.15" height="1.15" fill="#666"/><rect x="513.1" y="271.35" width="1.15" height="1.15" fill="#999"/><rect x="514.25" y="271.35" width="1.15" height="1.15" fill="#ccc"/><rect x="515.4" y="271.35" width="1.15" height="1.15" fill="#666"/><rect x="516.55" y="271.35" width="2.3" height="1.15" fill="#000"/><rect x="518.85" y="271.35" width="2.3" height="1.15" fill="#333"/><rect x="522.3" y="271.35" width="1.15" height="1.15" fill="#999"/><rect x="506.2" y="272.5" width="1.15" height="1.15" fill="#333"/><rect x="508.5" y="272.5" width="1.15" height="1.15" fill="#333"/><rect x="509.65" y="272.5" width="1.15" height="1.15" fill="#000"/><rect x="510.8" y="272.5" width="1.15" height="1.15" fill="#666"/><rect x="511.95" y="272.5" width="2.3" height="1.15" fill="#000"/><rect x="515.4" y="272.5" width="1.15" height="1.15" fill="#333"/><rect x="517.7" y="272.5" width="1.15" height="1.15" fill="#000"/><rect x="518.85" y="272.5" width="1.15" height="1.15" fill="#333"/><rect x="521.15" y="272.5" width="1.15" height="1.15" fill="#000"/><rect x="522.3" y="272.5" width="1.15" height="1.15" fill="#ccc"/><rect x="565.25" y="256.6" width="1.15" height="1.15" fill="#666"/><rect x="566.4" y="256.6" width="1.15" height="1.15" fill="#ccc"/><rect x="567.55" y="256.6" width="1.15" height="1.15" fill="#999"/><rect x="569.85" y="256.6" width="1.15" height="1.15" fill="#999"/><rect x="572.15" y="256.6" width="1.15" height="1.15" fill="#333"/><rect x="573.3" y="256.6" width="1.15" height="1.15" fill="#000"/><rect x="574.45" y="256.6" width="1.15" height="1.15" fill="#666"/><rect x="575.6" y="256.6" width="1.15" height="1.15" fill="#ccc"/><rect x="576.75" y="256.6" width="1.15" height="1.15" fill="#333"/><rect x="579.05" y="256.6" width="1.15" height="1.15" fill="#000"/><rect x="580.2" y="256.6" width="1.15" height="1.15" fill="#333"/><rect x="564.1" y="257.75" width="1.15" height="1.15" fill="#666"/><rect x="565.25" y="257.75" width="1.15" height="1.15" fill="#ccc"/><rect x="566.4" y="257.75" width="1.15" height="1.15" fill="#000"/><rect x="567.55" y="257.75" width="1.15" height="1.15" fill="#666"/><rect x="568.7" y="257.75" width="1.15" height="1.15" fill="#999"/><rect x="569.85" y="257.75" width="1.15" height="1.15" fill="#666"/><rect x="571" y="257.75" width="2.3" height="1.15" fill="#333"/><rect x="574.45" y="257.75" width="1.15" height="1.15" fill="#000"/><rect x="575.6" y="257.75" width="1.15" height="1.15" fill="#ccc"/><rect x="576.75" y="257.75" width="1.15" height="1.15" fill="#333"/><rect x="577.9" y="257.75" width="1.15" height="1.15" fill="#000"/><rect x="579.05" y="257.75" width="1.15" height="1.15" fill="#999"/><rect x="564.1" y="258.9" width="1.15" height="1.15" fill="#333"/><rect x="565.25" y="258.9" width="1.15" height="1.15" fill="#666"/><rect x="566.4" y="258.9" width="1.15" height="1.15" fill="#000"/><rect x="567.55" y="258.9" width="1.15" height="1.15" fill="#ccc"/><rect x="568.7" y="258.9" width="1.15" height="1.15" fill="#333"/><rect x="569.85" y="258.9" width="1.15" height="1.15" fill="#000"/><rect x="571" y="258.9" width="1.15" height="1.15" fill="#333"/><rect x="572.15" y="258.9" width="2.3" height="1.15" fill="#666"/><rect x="574.45" y="258.9" width="2.3" height="1.15" fill="#000"/><rect x="576.75" y="258.9" width="1.15" height="1.15" fill="#999"/><rect x="577.9" y="258.9" width="1.15" height="1.15" fill="#666"/><rect x="579.05" y="258.9" width="1.15" height="1.15" fill="#999"/><rect x="564.1" y="260.05" width="1.15" height="1.15" fill="#000"/><rect x="565.25" y="260.05" width="1.15" height="1.15" fill="#666"/><rect x="566.4" y="260.05" width="1.15" height="1.15" fill="#333"/><rect x="568.7" y="260.05" width="1.15" height="1.15" fill="#000"/><rect x="569.85" y="260.05" width="1.15" height="1.15" fill="#ccc"/><rect x="571" y="260.05" width="1.15" height="1.15" fill="#333"/><rect x="572.15" y="260.05" width="2.3" height="1.15" fill="#000"/><rect x="574.45" y="260.05" width="1.15" height="1.15" fill="#999"/><rect x="575.6" y="260.05" width="1.15" height="1.15" fill="#666"/><rect x="576.75" y="260.05" width="1.15" height="1.15" fill="#000"/><rect x="577.9" y="260.05" width="1.15" height="1.15" fill="#999"/><rect x="580.2" y="260.05" width="1.15" height="1.15" fill="#333"/><rect x="564.1" y="261.2" width="1.15" height="1.15" fill="#666"/><rect x="565.25" y="261.2" width="1.15" height="1.15" fill="#000"/><rect x="566.4" y="261.2" width="1.15" height="1.15" fill="#666"/><rect x="567.55" y="261.2" width="2.3" height="1.15" fill="#333"/><rect x="569.85" y="261.2" width="1.15" height="1.15" fill="#666"/><rect x="571" y="261.2" width="1.15" height="1.15" fill="#ccc"/><rect x="572.15" y="261.2" width="2.3" height="1.15" fill="#666"/><rect x="574.45" y="261.2" width="2.3" height="1.15" fill="#000"/><rect x="579.05" y="261.2" width="2.3" height="1.15" fill="#000"/><rect x="564.1" y="262.35" width="2.3" height="1.15" fill="#000"/><rect x="566.4" y="262.35" width="1.15" height="1.15" fill="#333"/><rect x="567.55" y="262.35" width="1.15" height="1.15" fill="#666"/><rect x="568.7" y="262.35" width="1.15" height="1.15" fill="#999"/><rect x="569.85" y="262.35" width="1.15" height="1.15" fill="#666"/><rect x="572.15" y="262.35" width="1.15" height="1.15" fill="#000"/><rect x="573.3" y="262.35" width="1.15" height="1.15" fill="#333"/><rect x="575.6" y="262.35" width="1.15" height="1.15" fill="#999"/><rect x="576.75" y="262.35" width="1.15" height="1.15" fill="#333"/><rect x="577.9" y="262.35" width="1.15" height="1.15" fill="#666"/><rect x="579.05" y="262.35" width="1.15" height="1.15" fill="#333"/><rect x="580.2" y="262.35" width="1.15" height="1.15" fill="#666"/><rect x="564.1" y="263.5" width="1.15" height="1.15" fill="#666"/><rect x="565.25" y="263.5" width="1.15" height="1.15" fill="#000"/><rect x="566.4" y="263.5" width="1.15" height="1.15" fill="#333"/><rect x="569.85" y="263.5" width="1.15" height="1.15" fill="#333"/><rect x="571" y="263.5" width="1.15" height="1.15" fill="#000"/><rect x="572.15" y="263.5" width="1.15" height="1.15" fill="#666"/><rect x="575.6" y="263.5" width="2.3" height="1.15" fill="#333"/><rect x="577.9" y="263.5" width="1.15" height="1.15" fill="#ccc"/><rect x="579.05" y="263.5" width="2.3" height="1.15" fill="#999"/><rect x="564.1" y="264.65" width="1.15" height="1.15" fill="#000"/><rect x="565.25" y="264.65" width="2.3" height="1.15" fill="#666"/><rect x="567.55" y="264.65" width="1.15" height="1.15" fill="#ccc"/><rect x="568.7" y="264.65" width="1.15" height="1.15" fill="#333"/><rect x="569.85" y="264.65" width="1.15" height="1.15" fill="#ccc"/><rect x="572.15" y="264.65" width="1.15" height="1.15" fill="#999"/><rect x="573.3" y="264.65" width="1.15" height="1.15" fill="#333"/><rect x="574.45" y="264.65" width="1.15" height="1.15" fill="#ccc"/><rect x="575.6" y="264.65" width="1.15" height="1.15" fill="#000"/><rect x="576.75" y="264.65" width="1.15" height="1.15" fill="#333"/><rect x="579.05" y="264.65" width="2.3" height="1.15" fill="#ccc"/><rect x="565.25" y="265.8" width="2.3" height="1.15" fill="#000"/><rect x="567.55" y="265.8" width="1.15" height="1.15" fill="#333"/><rect x="568.7" y="265.8" width="1.15" height="1.15" fill="#999"/><rect x="569.85" y="265.8" width="1.15" height="1.15" fill="#000"/><rect x="571" y="265.8" width="1.15" height="1.15" fill="#333"/><rect x="572.15" y="265.8" width="2.3" height="1.15" fill="#000"/><rect x="575.6" y="265.8" width="1.15" height="1.15" fill="#333"/><rect x="576.75" y="265.8" width="1.15" height="1.15" fill="#ccc"/><rect x="577.9" y="265.8" width="1.15" height="1.15" fill="#666"/><rect x="579.05" y="265.8" width="1.15" height="1.15" fill="#999"/><rect x="580.2" y="265.8" width="1.15" height="1.15" fill="#ccc"/><rect x="564.1" y="266.95" width="2.3" height="1.15" fill="#333"/><rect x="566.4" y="266.95" width="1.15" height="1.15" fill="#666"/><rect x="567.55" y="266.95" width="1.15" height="1.15" fill="#333"/><rect x="568.7" y="266.95" width="1.15" height="1.15" fill="#666"/><rect x="572.15" y="266.95" width="1.15" height="1.15" fill="#666"/><rect x="573.3" y="266.95" width="1.15" height="1.15" fill="#333"/><rect x="574.45" y="266.95" width="2.3" height="1.15" fill="#666"/><rect x="576.75" y="266.95" width="1.15" height="1.15" fill="#333"/><rect x="577.9" y="266.95" width="1.15" height="1.15" fill="#000"/><rect x="580.2" y="266.95" width="1.15" height="1.15" fill="#ccc"/><rect x="564.1" y="268.1" width="1.15" height="1.15" fill="#999"/><rect x="565.25" y="268.1" width="1.15" height="1.15" fill="#666"/><rect x="566.4" y="268.1" width="3.45" height="1.15" fill="#333"/><rect x="569.85" y="268.1" width="1.15" height="1.15" fill="#ccc"/><rect x="571" y="268.1" width="1.15" height="1.15" fill="#999"/><rect x="572.15" y="268.1" width="2.3" height="1.15" fill="#000"/><rect x="574.45" y="268.1" width="1.15" height="1.15" fill="#333"/><rect x="575.6" y="268.1" width="1.15" height="1.15" fill="#999"/><rect x="576.75" y="268.1" width="1.15" height="1.15" fill="#000"/><rect x="577.9" y="268.1" width="1.15" height="1.15" fill="#666"/><rect x="579.05" y="268.1" width="1.15" height="1.15" fill="#333"/><rect x="580.2" y="268.1" width="1.15" height="1.15" fill="#666"/><rect x="564.1" y="269.25" width="2.3" height="1.15" fill="#ccc"/><rect x="568.7" y="269.25" width="1.15" height="1.15" fill="#000"/><rect x="569.85" y="269.25" width="1.15" height="1.15" fill="#333"/><rect x="571" y="269.25" width="1.15" height="1.15" fill="#999"/><rect x="572.15" y="269.25" width="2.3" height="1.15" fill="#000"/><rect x="579.05" y="269.25" width="1.15" height="1.15" fill="#333"/><rect x="580.2" y="269.25" width="1.15" height="1.15" fill="#999"/><rect x="564.1" y="270.4" width="1.15" height="1.15" fill="#000"/><rect x="565.25" y="270.4" width="1.15" height="1.15" fill="#666"/><rect x="566.4" y="270.4" width="1.15" height="1.15" fill="#000"/><rect x="568.7" y="270.4" width="1.15" height="1.15" fill="#666"/><rect x="571" y="270.4" width="1.15" height="1.15" fill="#999"/><rect x="573.3" y="270.4" width="1.15" height="1.15" fill="#ccc"/><rect x="575.6" y="270.4" width="1.15" height="1.15" fill="#999"/><rect x="576.75" y="270.4" width="1.15" height="1.15" fill="#ccc"/><rect x="580.2" y="270.4" width="1.15" height="1.15" fill="#000"/><rect x="565.25" y="271.55" width="1.15" height="1.15" fill="#333"/><rect x="566.4" y="271.55" width="1.15" height="1.15" fill="#999"/><rect x="567.55" y="271.55" width="1.15" height="1.15" fill="#666"/><rect x="569.85" y="271.55" width="1.15" height="1.15" fill="#000"/><rect x="572.15" y="271.55" width="1.15" height="1.15" fill="#333"/><rect x="573.3" y="271.55" width="2.3" height="1.15" fill="#666"/><rect x="575.6" y="271.55" width="3.45" height="1.15" fill="#000"/><rect x="579.05" y="271.55" width="1.15" height="1.15" fill="#666"/><rect x="565.25" y="272.7" width="1.15" height="1.15" fill="#999"/><rect x="566.4" y="272.7" width="1.15" height="1.15" fill="#666"/><rect x="567.55" y="272.7" width="1.15" height="1.15" fill="#000"/><rect x="568.7" y="272.7" width="1.15" height="1.15" fill="#666"/><rect x="569.85" y="272.7" width="1.15" height="1.15" fill="#333"/><rect x="571" y="272.7" width="3.45" height="1.15" fill="#000"/><rect x="574.45" y="272.7" width="2.3" height="1.15" fill="#666"/><rect x="580.2" y="272.7" width="1.15" height="1.15" fill="#333"/><line x1="539.1" y1="238.5" x2="550.1" y2="238.5" stroke="#000" stroke-width="1.15" /><line x1="544.6" y1="233" x2="544.6" y2="244" stroke="#000" stroke-width="1.15" /><rect x="602.45" y="204.45" width="15.9" height="15.9" fill="none" stroke="#111" stroke-width="1.3" /><rect x="656.45" y="204.45" width="15.9" height="15.9" fill="none" stroke="#111" stroke-width="1.3" /><rect x="602.45" y="256.55" width="15.9" height="15.9" fill="none" stroke="#111" stroke-width="1.3" /><rect x="656.45" y="256.55" width="15.9" height="15.9" fill="none" stroke="#111" stroke-width="1.3" /><text x="607.96" y="240.8" font-size="7.8" font-weight="normal" font-style="normal" fill="#000" textLength="58.93" lengthAdjust="spacingAndGlyphs" stroke="#000" stroke-width="0.2">Which direction?</text><text x="432.12" y="295.5" font-size="12" font-weight="normal" font-style="normal" fill="#000" textLength="37.8" lengthAdjust="spacingAndGlyphs" >200 ms</text><text x="526.14" y="295.8" font-size="12" font-weight="normal" font-style="normal" fill="#000" textLength="36.97" lengthAdjust="spacingAndGlyphs" >100 ms</text><text x="596.21" y="295.8" font-size="12.5" font-weight="normal" font-style="normal" fill="#000" textLength="81.76" lengthAdjust="spacingAndGlyphs" >Until response</text><text x="-0.81" y="355.3" font-size="22" font-weight="bold" font-style="normal" fill="#000" textLength="13.09" lengthAdjust="spacingAndGlyphs" >b</text><line x1="36.6" y1="345.7" x2="36.6" y2="538.3" stroke="#9a9a9a" stroke-width="1" /><line x1="36.1" y1="538.3" x2="101.5" y2="538.3" stroke="#9a9a9a" stroke-width="1" /><line x1="34.6" y1="520.46" x2="36.6" y2="520.46" stroke="#777" stroke-width="0.7" /><text x="19.39" y="524.41" font-size="11.2" font-weight="normal" font-style="normal" fill="#000" textLength="13.33" lengthAdjust="spacingAndGlyphs" >28</text><line x1="34.6" y1="495.3" x2="36.6" y2="495.3" stroke="#777" stroke-width="0.7" /><text x="19.34" y="499.25" font-size="11.2" font-weight="normal" font-style="normal" fill="#000" textLength="13.33" lengthAdjust="spacingAndGlyphs" >30</text><line x1="34.6" y1="470.14" x2="36.6" y2="470.14" stroke="#777" stroke-width="0.7" /><text x="19.47" y="474.09" font-size="11.2" font-weight="normal" font-style="normal" fill="#000" textLength="13.33" lengthAdjust="spacingAndGlyphs" >32</text><line x1="34.6" y1="444.98" x2="36.6" y2="444.98" stroke="#777" stroke-width="0.7" /><text x="19.22" y="448.93" font-size="11.2" font-weight="normal" font-style="normal" fill="#000" textLength="13.33" lengthAdjust="spacingAndGlyphs" >34</text><line x1="34.6" y1="419.82" x2="36.6" y2="419.82" stroke="#777" stroke-width="0.7" /><text x="19.4" y="423.77" font-size="11.2" font-weight="normal" font-style="normal" fill="#000" textLength="13.33" lengthAdjust="spacingAndGlyphs" >36</text><line x1="34.6" y1="394.66" x2="36.6" y2="394.66" stroke="#777" stroke-width="0.7" /><text x="19.39" y="398.61" font-size="11.2" font-weight="normal" font-style="normal" fill="#000" textLength="13.33" lengthAdjust="spacingAndGlyphs" >38</text><line x1="34.6" y1="369.5" x2="36.6" y2="369.5" stroke="#777" stroke-width="0.7" /><text x="19.34" y="373.45" font-size="11.2" font-weight="normal" font-style="normal" fill="#000" textLength="13.33" lengthAdjust="spacingAndGlyphs" >40</text><line x1="39.6" y1="538.3" x2="39.6" y2="539.9" stroke="#777" stroke-width="0.7" /><text x="36.01" y="551.2" font-size="11" font-weight="normal" font-style="normal" fill="#000" textLength="6.85" lengthAdjust="spacingAndGlyphs" >1</text><line x1="59.4" y1="538.3" x2="59.4" y2="539.9" stroke="#777" stroke-width="0.7" /><text x="55.97" y="551.2" font-size="11" font-weight="normal" font-style="normal" fill="#000" textLength="6.85" lengthAdjust="spacingAndGlyphs" >2</text><line x1="79" y1="538.3" x2="79" y2="539.9" stroke="#777" stroke-width="0.7" /><text x="75.61" y="551.2" font-size="11" font-weight="normal" font-style="normal" fill="#000" textLength="6.85" lengthAdjust="spacingAndGlyphs" >3</text><line x1="98.7" y1="538.3" x2="98.7" y2="539.9" stroke="#777" stroke-width="0.7" /><text x="95.31" y="551.2" font-size="11" font-weight="normal" font-style="normal" fill="#000" textLength="6.85" lengthAdjust="spacingAndGlyphs" >4</text><text x="59.97" y="563.5" font-size="11.2" font-weight="normal" font-style="normal" fill="#000" textLength="18.15" lengthAdjust="spacingAndGlyphs" >Bin</text><g transform="translate(14.9,480.3) rotate(-90)"><text x="-0.96" y="0" font-size="11.6" font-weight="normal" fill="#000" textLength="79.59" lengthAdjust="spacingAndGlyphs">Error (degrees)</text></g><line x1="39.6" y1="354" x2="39.6" y2="387.7" stroke="#9a8fdc" stroke-width="0.9" /><line x1="59.4" y1="460.4" x2="59.4" y2="482.7" stroke="#9a8fdc" stroke-width="0.9" /><line x1="79" y1="505" x2="79" y2="523.8" stroke="#9a8fdc" stroke-width="0.9" /><line x1="98.7" y1="508" x2="98.7" y2="529.6" stroke="#9a8fdc" stroke-width="0.9" /><polyline points="39.6,371.01 59.4,471.4 79,514.17 98.7,517.94" fill="none" stroke="#8b7fd2" stroke-width="0.9"/><rect x="37.6" y="369.11" width="4" height="3.8" fill="#8b7fd2"/><rect x="57.4" y="469.5" width="4" height="3.8" fill="#8b7fd2"/><rect x="77" y="512.27" width="4" height="3.8" fill="#8b7fd2"/><rect x="96.7" y="516.04" width="4" height="3.8" fill="#8b7fd2"/><line x1="140.9" y1="343.3" x2="140.9" y2="538.7" stroke="#cfcfcf" stroke-width="1.4" /><line x1="140.2" y1="538.7" x2="207.2" y2="538.7" stroke="#cfcfcf" stroke-width="1.4" /><line x1="138.9" y1="523.4" x2="140.9" y2="523.4" stroke="#777" stroke-width="0.7" /><text x="123.47" y="527.35" font-size="11.2" font-weight="normal" font-style="normal" fill="#000" textLength="13.33" lengthAdjust="spacingAndGlyphs" >35</text><line x1="138.9" y1="493.08" x2="140.9" y2="493.08" stroke="#777" stroke-width="0.7" /><text x="123.44" y="497.03" font-size="11.2" font-weight="normal" font-style="normal" fill="#000" textLength="13.33" lengthAdjust="spacingAndGlyphs" >40</text><line x1="138.9" y1="462.76" x2="140.9" y2="462.76" stroke="#777" stroke-width="0.7" /><text x="123.47" y="466.71" font-size="11.2" font-weight="normal" font-style="normal" fill="#000" textLength="13.33" lengthAdjust="spacingAndGlyphs" >45</text><line x1="138.9" y1="432.44" x2="140.9" y2="432.44" stroke="#777" stroke-width="0.7" /><text x="123.44" y="436.39" font-size="11.2" font-weight="normal" font-style="normal" fill="#000" textLength="13.33" lengthAdjust="spacingAndGlyphs" >50</text><line x1="138.9" y1="402.12" x2="140.9" y2="402.12" stroke="#777" stroke-width="0.7" /><text x="123.47" y="406.07" font-size="11.2" font-weight="normal" font-style="normal" fill="#000" textLength="13.33" lengthAdjust="spacingAndGlyphs" >55</text><line x1="138.9" y1="371.8" x2="140.9" y2="371.8" stroke="#777" stroke-width="0.7" /><text x="123.44" y="375.75" font-size="11.2" font-weight="normal" font-style="normal" fill="#000" textLength="13.33" lengthAdjust="spacingAndGlyphs" >60</text><line x1="143.8" y1="538.7" x2="143.8" y2="540.3" stroke="#777" stroke-width="0.7" /><text x="140.21" y="551.2" font-size="11" font-weight="normal" font-style="normal" fill="#000" textLength="6.85" lengthAdjust="spacingAndGlyphs" >1</text><line x1="163.5" y1="538.7" x2="163.5" y2="540.3" stroke="#777" stroke-width="0.7" /><text x="160.07" y="551.2" font-size="11" font-weight="normal" font-style="normal" fill="#000" textLength="6.85" lengthAdjust="spacingAndGlyphs" >2</text><line x1="183.2" y1="538.7" x2="183.2" y2="540.3" stroke="#777" stroke-width="0.7" /><text x="179.81" y="551.2" font-size="11" font-weight="normal" font-style="normal" fill="#000" textLength="6.85" lengthAdjust="spacingAndGlyphs" >3</text><line x1="203.2" y1="538.7" x2="203.2" y2="540.3" stroke="#777" stroke-width="0.7" /><text x="199.81" y="551.2" font-size="11" font-weight="normal" font-style="normal" fill="#000" textLength="6.85" lengthAdjust="spacingAndGlyphs" >4</text><text x="164.99" y="564.3" font-size="11.2" font-weight="normal" font-style="normal" fill="#000" textLength="17.81" lengthAdjust="spacingAndGlyphs" >Bin</text><g transform="translate(118.6,480.3) rotate(-90)"><text x="-0.97" y="0" font-size="11.6" font-weight="normal" fill="#000" textLength="79.9" lengthAdjust="spacingAndGlyphs">Error (degrees)</text></g><line x1="143.8" y1="352.3" x2="143.8" y2="369.7" stroke="#9a8fdc" stroke-width="0.9" /><line x1="163.5" y1="468.7" x2="163.5" y2="478" stroke="#9a8fdc" stroke-width="0.9" /><line x1="183.2" y1="500.9" x2="183.2" y2="511.8" stroke="#9a8fdc" stroke-width="0.9" /><line x1="203.2" y1="516.4" x2="203.2" y2="529.9" stroke="#9a8fdc" stroke-width="0.9" /><polyline points="143.8,361.49 163.5,473.68 183.2,506.42 203.2,523.4" fill="none" stroke="#8b7fd2" stroke-width="0.9"/><circle cx="143.8" cy="361.49" r="2.3" fill="#8b7fd2"/><circle cx="163.5" cy="473.68" r="2.3" fill="#8b7fd2"/><circle cx="183.2" cy="506.42" r="2.3" fill="#8b7fd2"/><circle cx="203.2" cy="523.4" r="2.3" fill="#8b7fd2"/><text x="206.72" y="354.7" font-size="21" font-weight="bold" font-style="normal" fill="#000" textLength="12.54" lengthAdjust="spacingAndGlyphs" >c</text><rect x="347.6" y="326.4" width="13.8" height="12.7" fill="none" stroke="#3e8a68" stroke-width="1.2" /><rect x="367.8" y="326.4" width="13.3" height="12.7" fill="none" stroke="#8d78c8" stroke-width="1.2" /><text x="390.58" y="336.3" font-size="13" font-weight="normal" font-style="normal" fill="#000" textLength="44.03" lengthAdjust="spacingAndGlyphs" >Neutral</text><rect x="457.9" y="325" width="15.4" height="15.4" fill="#3e8a68"/><rect x="478.3" y="325" width="15.3" height="15.4" fill="#8d78c8"/><text x="502.06" y="336.8" font-size="13" font-weight="normal" font-style="normal" fill="#000" textLength="66.23" lengthAdjust="spacingAndGlyphs" >Informative</text><line x1="235.6" y1="337.1" x2="235.6" y2="551.3" stroke="#777" stroke-width="0.9" /><line x1="233.6" y1="551.3" x2="235.6" y2="551.3" stroke="#777" stroke-width="0.7" /><text x="227.64" y="554.6" font-size="9.4" font-weight="normal" font-style="normal" fill="#000" textLength="5.44" lengthAdjust="spacingAndGlyphs" >0</text><line x1="233.6" y1="525.75" x2="235.6" y2="525.75" stroke="#777" stroke-width="0.7" /><text x="227.74" y="529.05" font-size="9.4" font-weight="normal" font-style="normal" fill="#000" textLength="5.44" lengthAdjust="spacingAndGlyphs" >1</text><line x1="233.6" y1="500.2" x2="235.6" y2="500.2" stroke="#777" stroke-width="0.7" /><text x="227.75" y="503.5" font-size="9.4" font-weight="normal" font-style="normal" fill="#000" textLength="5.44" lengthAdjust="spacingAndGlyphs" >2</text><line x1="233.6" y1="474.65" x2="235.6" y2="474.65" stroke="#777" stroke-width="0.7" /><text x="227.69" y="477.95" font-size="9.4" font-weight="normal" font-style="normal" fill="#000" textLength="5.44" lengthAdjust="spacingAndGlyphs" >3</text><line x1="233.6" y1="449.1" x2="235.6" y2="449.1" stroke="#777" stroke-width="0.7" /><text x="227.55" y="452.4" font-size="9.4" font-weight="normal" font-style="normal" fill="#000" textLength="5.44" lengthAdjust="spacingAndGlyphs" >4</text><line x1="233.6" y1="423.55" x2="235.6" y2="423.55" stroke="#777" stroke-width="0.7" /><text x="227.67" y="426.85" font-size="9.4" font-weight="normal" font-style="normal" fill="#000" textLength="5.44" lengthAdjust="spacingAndGlyphs" >5</text><line x1="233.6" y1="398" x2="235.6" y2="398" stroke="#777" stroke-width="0.7" /><text x="227.69" y="401.3" font-size="9.4" font-weight="normal" font-style="normal" fill="#000" textLength="5.44" lengthAdjust="spacingAndGlyphs" >6</text><line x1="233.6" y1="372.45" x2="235.6" y2="372.45" stroke="#777" stroke-width="0.7" /><text x="227.75" y="375.75" font-size="9.4" font-weight="normal" font-style="normal" fill="#000" textLength="5.44" lengthAdjust="spacingAndGlyphs" >7</text><line x1="233.6" y1="346.9" x2="235.6" y2="346.9" stroke="#777" stroke-width="0.7" /><text x="227.69" y="350.2" font-size="9.4" font-weight="normal" font-style="normal" fill="#000" textLength="5.44" lengthAdjust="spacingAndGlyphs" >8</text><rect x="245.5" y="491.5" width="41.8" height="59.8" fill="none" stroke="#76ae94" stroke-width="1" /><rect x="350.4" y="493.03" width="41.5" height="58.26" fill="none" stroke="#a396dc" stroke-width="1" /><rect x="295.2" y="498.92" width="42.4" height="52.38" fill="#3e8a68"/><rect x="400" y="498.16" width="42" height="53.14" fill="#8d78c8"/><path d="M266,482.33L316.8,485.27M266,480.57L316.8,492.19M266,485.39L316.8,500.39M266,498.71L316.8,512.54M266,466.37L316.8,477.39M266,494.18L316.8,493.3M266,494.88L316.8,501.37M266,514.28L316.8,518.16M266,502.63L316.8,502.56M266,464.27L316.8,473.79M266,477.19L316.8,494.62M266,500.32L316.8,506.68M266,460.63L316.8,472.06M266,494.4L316.8,497.76M266,513.6L316.8,517.8M266,505.4L316.8,520.64M266,464.73L316.8,471.51M266,489.94L316.8,513.04M266,513.42L316.8,515.27M266,487.81L316.8,500.07M266,496.84L316.8,494.4M266,502.35L316.8,510.6M266,514.26L316.8,517.94M266,489.51L316.8,500.54M266,471.34L316.8,475.69M266,491.21L316.8,492.76M266,500.85L316.8,497.19M266,461.56L316.8,474.43M266,492.9L316.8,495.25M266,454.89L316.8,473.1M266,501.59L316.8,507.1M266,513.4L316.8,520.64M266,480.86L316.8,489.24M266,489.14L316.8,489.24M266,509.92L316.8,514.39M266,486.35L316.8,491.43M266,485.18L316.8,497.25M266,470.85L316.8,477.3M266,493.69L316.8,495.21M266,511.45L316.8,520.64M266,456.59L316.8,467.58M266,465.47L316.8,467.27M266,499.34L316.8,501.78M266,503.5L316.8,501.48M266,463.64L316.8,477.85M266,498.16L316.8,504.5M266,489.62L316.8,496.29M266,506.83L316.8,517.39M266,494.95L316.8,496.59M266,467.72L316.8,479.01M266,497.25L316.8,505.56M266,516.94L316.8,513.94M266,502.72L316.8,500.88M266,471.42L316.8,480.2M266,454.25L316.8,464.43M266,481.2L316.8,482.43M266,504.68L316.8,507.18M266,474.32L316.8,495.84M266,479L316.8,492.16M266,476.9L316.8,491.63M266,504.96L316.8,505.77M266,470.81L316.8,476.84M266,471.96L316.8,487.96M266,471.13L316.8,486.3M266,498.03L316.8,496.58M266,479.68L316.8,483.82M266,503.38L316.8,511.49M266,507.02L316.8,508.8M266,498.86L316.8,507.48M266,487.24L316.8,491.9M266,498.85L316.8,510.53M266,500.53L316.8,499.51M266,490.56L316.8,493.81M266,518.08L316.8,520.64M266,509.39L316.8,509.73M266,464.62L316.8,470.12M266,509.64L316.8,515.47M266,500.51L316.8,503.49M266,491.64L316.8,503.67M266,464.49L316.8,479.82M266,495.75L316.8,502.02M266,462.33L316.8,464.74M266,528.17L316.8,528.57M266,531.98L316.8,532.92M266,534.5L316.8,535.82M266,529.86L316.8,528.03M266,533.02L316.8,533.6M266,534.43L316.8,533.39M266,529.98L316.8,530.37M266,527.31L316.8,529.89M266,522.52L316.8,525.85M266,526.51L316.8,526.99M266,533.88L316.8,533.25M266,536.32L316.8,537.25M266,533.87L316.8,534.47M266,414.86L316.8,422.27M266,427.13L316.8,453.7M266,446.8L316.8,464.43M266,347.16L316.8,369.13M266,454.98L316.8,466.98" stroke="#8f8f8f" stroke-width="0.55" stroke-opacity="0.8" fill="none"/><path d="M370.8,495.21L421.3,502.83M370.8,507.56L421.3,511.73M370.8,505.3L421.3,508.08M370.8,493.62L421.3,499.85M370.8,478.77L421.3,488.68M370.8,504.2L421.3,504.28M370.8,479.31L421.3,498.26M370.8,477.26L421.3,482.37M370.8,466.43L421.3,480.03M370.8,462.64L421.3,477.82M370.8,471.15L421.3,480.06M370.8,504.38L421.3,498.94M370.8,493.68L421.3,497.71M370.8,483.19L421.3,489.33M370.8,467.98L421.3,482.18M370.8,468.53L421.3,474.65M370.8,477.73L421.3,483.24M370.8,473.01L421.3,478.6M370.8,503.74L421.3,518.08M370.8,459.75L421.3,470.82M370.8,498.48L421.3,501.9M370.8,501.97L421.3,511.66M370.8,502.3L421.3,508.83M370.8,465.86L421.3,471.57M370.8,496.11L421.3,495.52M370.8,503.72L421.3,509.71M370.8,485.96L421.3,493.45M370.8,492.21L421.3,503.27M370.8,491.54L421.3,503M370.8,496.84L421.3,496.46M370.8,459.3L421.3,470.82M370.8,492.07L421.3,492.25M370.8,490.04L421.3,491.76M370.8,496.89L421.3,512.39M370.8,479.22L421.3,484.03M370.8,493.63L421.3,496.08M370.8,475.16L421.3,482.29M370.8,494.65L421.3,502.07M370.8,494.91L421.3,496.17M370.8,503.91L421.3,504.39M370.8,489.86L421.3,499.76M370.8,506.14L421.3,506.94M370.8,478.43L421.3,489.76M370.8,504.37L421.3,516.76M370.8,472L421.3,486.43M370.8,479.04L421.3,488.82M370.8,461.3L421.3,470.82M370.8,456.76L421.3,470.82M370.8,481.52L421.3,488.64M370.8,483.07L421.3,497.84M370.8,491.86L421.3,493.54M370.8,479.78L421.3,486.55M370.8,456.76L421.3,473.32M370.8,485.81L421.3,492.05M370.8,508.08L421.3,511.67M370.8,513.33L421.3,515.31M370.8,485.28L421.3,494.49M370.8,503.55L421.3,509.53M370.8,456.76L421.3,470.82M370.8,511.89L421.3,510.4M370.8,495.1L421.3,503.38M370.8,490.26L421.3,491.28M370.8,466.24L421.3,474.09M370.8,482.92L421.3,484.65M370.8,498.34L421.3,501.75M370.8,485.41L421.3,481.24M370.8,486.84L421.3,496.14M370.8,515.53L421.3,518.08M370.8,457.78L421.3,470.82M370.8,491.73L421.3,486.46M370.8,485.06L421.3,500.92M370.8,462.84L421.3,470.82M370.8,506.16L421.3,510.18M370.8,505.55L421.3,505.9M370.8,514.91L421.3,516.54M370.8,478L421.3,487.97M370.8,497.81L421.3,505.49M370.8,502.01L421.3,512.65M370.8,456.77L421.3,470.82M370.8,497.81L421.3,511.41M370.8,469L421.3,476.23M370.8,490.63L421.3,491.52M370.8,536.46L421.3,535.96M370.8,535.47L421.3,534.06M370.8,532.31L421.3,530.7M370.8,526.99L421.3,528.08M370.8,517.49L421.3,522.04M370.8,524.3L421.3,526.37M370.8,520.75L421.3,518.91M370.8,521.79L421.3,520.84M370.8,536.57L421.3,535.75M370.8,527.74L421.3,528.12M370.8,534L421.3,536.11M370.8,536.29L421.3,536.23M370.8,517.94L421.3,519.59M370.8,525.13L421.3,524.23M370.8,430.45L421.3,437.35M370.8,449.1L421.3,453.95M370.8,451.65L421.3,462.13M370.8,356.1L421.3,371.17M370.8,457.02L421.3,466.98" stroke="#8f8f8f" stroke-width="0.55" stroke-opacity="0.8" fill="none"/><line x1="235.1" y1="551.3" x2="452.4" y2="551.3" stroke="#777" stroke-width="0.9" /><line x1="266.4" y1="490.31" x2="266.4" y2="492.71" stroke="#333" stroke-width="0.8" /><line x1="316.1" y1="498.23" x2="316.1" y2="500.63" stroke="#333" stroke-width="0.8" /><line x1="370.8" y1="491.33" x2="370.8" y2="493.73" stroke="#333" stroke-width="0.8" /><line x1="421" y1="497.47" x2="421" y2="499.87" stroke="#333" stroke-width="0.8" /><line x1="291.6" y1="551.3" x2="291.6" y2="553.3" stroke="#777" stroke-width="0.7" /><line x1="395.5" y1="551.3" x2="395.5" y2="553.3" stroke="#777" stroke-width="0.7" /><text x="282.76" y="560.9" font-size="10" font-weight="normal" font-style="normal" fill="#000" textLength="17.76" lengthAdjust="spacingAndGlyphs" >WM</text><text x="385.48" y="560.9" font-size="10" font-weight="normal" font-style="normal" fill="#000" textLength="20.04" lengthAdjust="spacingAndGlyphs" >LTM</text><g transform="translate(224.3,456.6) rotate(-90)"><text x="-0.79" y="0" font-size="9.6" font-weight="normal" fill="#000" textLength="26.68" lengthAdjust="spacingAndGlyphs">RT (s)</text></g><path d="M292.4,361.2 V355.3 H388.2 V361.2" fill="none" stroke="#333" stroke-width="0.9"/><text x="318.9" y="352.8" font-size="13" font-weight="normal" font-style="italic" fill="#000" textLength="6.69" lengthAdjust="spacingAndGlyphs" >p</text><text x="327.49" y="352.8" font-size="13" font-weight="normal" font-style="normal" fill="#000" textLength="34.85" lengthAdjust="spacingAndGlyphs" >= .063</text><text x="271.89" y="374" font-size="13" font-weight="normal" font-style="italic" fill="#000" textLength="6.59" lengthAdjust="spacingAndGlyphs" >p</text><text x="280.82" y="374" font-size="13" font-weight="normal" font-style="normal" fill="#000" textLength="33.16" lengthAdjust="spacingAndGlyphs" >< .001</text><text x="367.1" y="373.5" font-size="13" font-weight="normal" font-style="italic" fill="#000" textLength="6.69" lengthAdjust="spacingAndGlyphs" >p</text><text x="376.12" y="373.5" font-size="13" font-weight="normal" font-style="normal" fill="#000" textLength="33.06" lengthAdjust="spacingAndGlyphs" >< .001</text><line x1="482.9" y1="351.2" x2="482.9" y2="551.5" stroke="#d2d2d2" stroke-width="1.4" /><line x1="480.9" y1="551.5" x2="482.2" y2="551.5" stroke="#888" stroke-width="0.7" /><text x="475.21" y="554.65" font-size="8.9" font-weight="normal" font-style="normal" fill="#000" textLength="5.05" lengthAdjust="spacingAndGlyphs" >0</text><line x1="480.9" y1="523.2" x2="482.2" y2="523.2" stroke="#888" stroke-width="0.7" /><text x="470.16" y="526.35" font-size="8.9" font-weight="normal" font-style="normal" fill="#000" textLength="10.1" lengthAdjust="spacingAndGlyphs" >20</text><line x1="480.9" y1="494.9" x2="482.2" y2="494.9" stroke="#888" stroke-width="0.7" /><text x="470.16" y="498.05" font-size="8.9" font-weight="normal" font-style="normal" fill="#000" textLength="10.1" lengthAdjust="spacingAndGlyphs" >40</text><line x1="480.9" y1="466.6" x2="482.2" y2="466.6" stroke="#888" stroke-width="0.7" /><text x="470.16" y="469.75" font-size="8.9" font-weight="normal" font-style="normal" fill="#000" textLength="10.1" lengthAdjust="spacingAndGlyphs" >60</text><line x1="480.9" y1="438.3" x2="482.2" y2="438.3" stroke="#888" stroke-width="0.7" /><text x="470.16" y="441.45" font-size="8.9" font-weight="normal" font-style="normal" fill="#000" textLength="10.1" lengthAdjust="spacingAndGlyphs" >80</text><line x1="480.9" y1="410" x2="482.2" y2="410" stroke="#888" stroke-width="0.7" /><text x="465.11" y="413.15" font-size="8.9" font-weight="normal" font-style="normal" fill="#000" textLength="15.15" lengthAdjust="spacingAndGlyphs" >100</text><line x1="480.9" y1="381.7" x2="482.2" y2="381.7" stroke="#888" stroke-width="0.7" /><text x="465.11" y="384.85" font-size="8.9" font-weight="normal" font-style="normal" fill="#000" textLength="15.15" lengthAdjust="spacingAndGlyphs" >120</text><line x1="480.9" y1="353.4" x2="482.2" y2="353.4" stroke="#888" stroke-width="0.7" /><text x="465.11" y="356.55" font-size="8.9" font-weight="normal" font-style="normal" fill="#000" textLength="15.15" lengthAdjust="spacingAndGlyphs" >140</text><rect x="492.5" y="461.44" width="38.6" height="90.06" fill="none" stroke="#76ae94" stroke-width="1" /><rect x="589.4" y="475.59" width="39.2" height="75.91" fill="none" stroke="#a396dc" stroke-width="1" /><rect x="539.4" y="479.62" width="38.6" height="71.88" fill="#3e8a68"/><rect x="636.3" y="481.6" width="39.4" height="69.9" fill="#8d78c8"/><path d="M511.5,491.46L559.1,523.01M511.5,437.2L559.1,489.38M511.5,525.68L559.1,531.13M511.5,432.41L559.1,451.08M511.5,414.41L559.1,444.66M511.5,477.95L559.1,484.78M511.5,471.33L559.1,515.19M511.5,449.32L559.1,470.58M511.5,423.57L559.1,456.59M511.5,505.78L559.1,501.74M511.5,448.83L559.1,503.07M511.5,501.8L559.1,483.17M511.5,471.67L559.1,479.21M511.5,470.07L559.1,490.55M511.5,429.47L559.1,422.76M511.5,401.81L559.1,411.41M511.5,513.1L559.1,533.71M511.5,456L559.1,511.86M511.5,493.25L559.1,519.11M511.5,447.72L559.1,500.71M511.5,456.72L559.1,459.66M511.5,403.88L559.1,462.79M511.5,519.79L559.1,530.28M511.5,514.54L559.1,496.1M511.5,518.32L559.1,492.87M511.5,447.97L559.1,450.97M511.5,467.18L559.1,480.01M511.5,435.12L559.1,455.44M511.5,425.54L559.1,461.75M511.5,430.63L559.1,451.08M511.5,425.45L559.1,427.13M511.5,445.13L559.1,445.98M511.5,433.48L559.1,460.98M511.5,497.11L559.1,498.34M511.5,417.23L559.1,437.43M511.5,466.38L559.1,480.09M511.5,489.81L559.1,501.76M511.5,444.06L559.1,477.7M511.5,489.19L559.1,509.03M511.5,509.45L559.1,534.52M511.5,436.02L559.1,469.93M511.5,453.44L559.1,526.74M511.5,500.01L559.1,487.94M511.5,486.26L559.1,508.13M511.5,409.74L559.1,419.96M511.5,466.24L559.1,460.87M511.5,481.69L559.1,517.04M511.5,456.44L559.1,461.97M511.5,527.45L559.1,534.52M511.5,505.21L559.1,512.44M511.5,524.65L559.1,534.52M511.5,458.92L559.1,534.52M511.5,426.15L559.1,481.02M511.5,458.58L559.1,476.5M511.5,434.62L559.1,470.7M511.5,423.37L559.1,433.23M511.5,433.52L559.1,470.81M511.5,431.06L559.1,472.95M511.5,431.14L559.1,475.84M511.5,446.82L559.1,483.77M511.5,436.65L559.1,488.17M511.5,435.29L559.1,474.19M511.5,501.24L559.1,534.52M511.5,429.34L559.1,502.35M511.5,494.01L559.1,530.6M511.5,454.66L559.1,501.2M511.5,509.03L559.1,522.68M511.5,506.33L559.1,534.52M511.5,473.93L559.1,508.58M511.5,488.6L559.1,437.4M511.5,445.84L559.1,466.49M511.5,469.67L559.1,503.48M511.5,412.93L559.1,431.52M511.5,500.07L559.1,508.62M511.5,437.12L559.1,477.3M511.5,492.05L559.1,515.3M511.5,432.05L559.1,470.47M511.5,425.32L559.1,472.7M511.5,463.07L559.1,462.52M511.5,406.92L559.1,450.69M511.5,499.61L559.1,452.18M511.5,440.21L559.1,488.09M511.5,492.87L559.1,485.14M511.5,480.9L559.1,512.12M511.5,467.92L559.1,517.76M511.5,420.99L559.1,461.42M511.5,486.92L559.1,510.34M511.5,417.98L559.1,483.42M511.5,471.69L559.1,492.51M511.5,430.43L559.1,425.73M511.5,424L559.1,425.16M511.5,493.45L559.1,534.52M511.5,433.45L559.1,442.72M511.5,407.11L559.1,481.88M511.5,428.04L559.1,481.23M511.5,411.99L559.1,411.41M511.5,459.02L559.1,453.59M511.5,507.6L559.1,506.42M511.5,517.87L559.1,534.52M511.5,468.6L559.1,492.07M511.5,514.13L559.1,534.52M511.5,469.29L559.1,440.48M511.5,525.89L559.1,534.52M511.5,438.03L559.1,460.41M511.5,526.13L559.1,498.99M511.5,459.24L559.1,496.04M511.5,490.87L559.1,526.79M511.5,484.96L559.1,477.3M511.5,443.49L559.1,467.94M511.5,442.99L559.1,496.22M511.5,436.29L559.1,411.41M511.5,423.31L559.1,439.77M511.5,442.1L559.1,458.48M511.5,451.29L559.1,449.97M511.5,479.44L559.1,501.38M511.5,507.66L559.1,498.8M511.5,411.51L559.1,424M511.5,463.02L559.1,508.64M511.5,514.82L559.1,534.52M511.5,525.5L559.1,516.21M511.5,439.31L559.1,419.3M511.5,450.8L559.1,478.04M511.5,485.76L559.1,520.45M511.5,479.89L559.1,464.73M511.5,428.14L559.1,439.34M511.5,537.77L559.1,537.77M511.5,391.61L559.1,414.25M511.5,394.44L559.1,452.45M511.5,398.68L559.1,411.41" stroke="#8f8f8f" stroke-width="0.55" stroke-opacity="0.7" fill="none"/><path d="M608.8,530.3L656.9,461.32M608.8,521.75L656.9,465.79M608.8,409.67L656.9,412.52M608.8,441.51L656.9,433.33M608.8,430.82L656.9,427.3M608.8,482.15L656.9,507.93M608.8,454.3L656.9,500.69M608.8,385.73L656.9,520.34M608.8,493.25L656.9,515.85M608.8,410.39L656.9,419.68M608.8,516.21L656.9,478.96M608.8,490.33L656.9,484.43M608.8,414.51L656.9,420.62M608.8,521.64L656.9,522.59M608.8,510.81L656.9,525.12M608.8,531.56L656.9,519.45M608.8,445.64L656.9,450.85M608.8,421.51L656.9,399.43M608.8,406.68L656.9,429.59M608.8,456.97L656.9,411.95M608.8,508.08L656.9,516.48M608.8,446.04L656.9,538.76M608.8,526.68L656.9,537.35M608.8,509.79L656.9,519.66M608.8,529.35L656.9,537.35M608.8,509.01L656.9,445.04M608.8,472.95L656.9,515.06M608.8,522.29L656.9,531.18M608.8,392.02L656.9,398.68M608.8,503.98L656.9,482.13M608.8,529.04L656.9,536.35M608.8,516.71L656.9,538.76M608.8,465.12L656.9,467.56M608.8,490.71L656.9,510.45M608.8,483.23L656.9,484.3M608.8,538.76L656.9,511.73M608.8,517.5L656.9,493.89M608.8,516.74L656.9,475.62M608.8,529.78L656.9,537.35M608.8,495.94L656.9,496.47M608.8,480.42L656.9,455.55M608.8,495.96L656.9,476.23M608.8,523.1L656.9,501.07M608.8,456.23L656.9,461.01M608.8,493.87L656.9,494.32M608.8,519.85L656.9,517.63M608.8,498.93L656.9,532.69M608.8,422.64L656.9,407.43M608.8,521.16L656.9,487.48M608.8,417.69L656.9,420.12M608.8,457.8L656.9,513.29M608.8,501.38L656.9,514.24M608.8,417.15L656.9,523.69M608.8,461.1L656.9,463.11M608.8,428.13L656.9,512.38M608.8,499.89L656.9,500.51M608.8,497.17L656.9,500.91M608.8,416.38L656.9,431.32M608.8,516.11L656.9,514.31M608.8,457.05L656.9,466.08M608.8,511.13L656.9,517.82M608.8,523.46L656.9,537.07M608.8,481.66L656.9,479.59M608.8,421.01L656.9,515.4M608.8,423.51L656.9,424.24M608.8,487.99L656.9,496.13M608.8,501.93L656.9,475.94M608.8,502.22L656.9,505.75M608.8,500.42L656.9,486.87M608.8,497.33L656.9,502.91M608.8,438.05L656.9,455.34M608.8,447.09L656.9,482.86M608.8,479.11L656.9,498.36M608.8,508.19L656.9,491.42M608.8,511.54L656.9,495.78M608.8,385.55L656.9,508.98M608.8,497.19L656.9,488.52M608.8,506.69L656.9,508.27M608.8,496.81L656.9,512.07M608.8,497.67L656.9,467.72M608.8,426.79L656.9,520.2M608.8,503.43L656.9,512.71M608.8,529.99L656.9,532.46M608.8,511.04L656.9,519.81M608.8,516.57L656.9,502.34M608.8,435.55L656.9,434.52M608.8,475.41L656.9,465.02M608.8,502.81L656.9,512.29M608.8,507.37L656.9,525.17M608.8,388.26L656.9,407.12M608.8,396.9L656.9,409.11M608.8,404.64L656.9,430.83M608.8,523.61L656.9,531.11M608.8,511.91L656.9,528.49M608.8,514.52L656.9,527.48M608.8,500.7L656.9,501.94M608.8,521.14L656.9,460.64M608.8,533.83L656.9,532.1M608.8,502.75L656.9,498.92M608.8,447.82L656.9,514.77M608.8,511.93L656.9,501.03M608.8,508.92L656.9,404.97M608.8,538.76L656.9,451.26M608.8,473.84L656.9,495.36M608.8,402.91L656.9,401.75M608.8,516.62L656.9,537.07M608.8,487.82L656.9,487.19M608.8,495.66L656.9,514.84M608.8,518.17L656.9,461.34M608.8,451.65L656.9,491.1M608.8,506.37L656.9,442.15M608.8,411.37L656.9,423.84M608.8,462.37L656.9,519.42M608.8,501.13L656.9,476.43M608.8,508.01L656.9,492.51M608.8,509.34L656.9,512.24M608.8,419.36L656.9,497.55M608.8,533.86L656.9,537.35M608.8,377.45L656.9,384.53M608.8,463.77L656.9,360.48M608.8,381.7L656.9,494.9M608.8,388.77L656.9,530.27M608.8,540.18L656.9,534.52" stroke="#8f8f8f" stroke-width="0.55" stroke-opacity="0.7" fill="none"/><line x1="482.2" y1="551.5" x2="685" y2="551.5" stroke="#d2d2d2" stroke-width="1.4" /><line x1="511.5" y1="459.44" x2="511.5" y2="462.44" stroke="#333" stroke-width="0.8" /><line x1="559.1" y1="478.12" x2="559.1" y2="481.12" stroke="#333" stroke-width="0.8" /><line x1="608.8" y1="473.59" x2="608.8" y2="476.59" stroke="#333" stroke-width="0.8" /><line x1="656.9" y1="480.1" x2="656.9" y2="483.1" stroke="#333" stroke-width="0.8" /><line x1="535" y1="551.5" x2="535" y2="553.5" stroke="#888" stroke-width="0.7" /><line x1="632.8" y1="551.5" x2="632.8" y2="553.5" stroke="#888" stroke-width="0.7" /><text x="527.56" y="560.9" font-size="9.5" font-weight="normal" font-style="normal" fill="#000" textLength="16.5" lengthAdjust="spacingAndGlyphs" >WM</text><text x="623.22" y="560.9" font-size="9.5" font-weight="normal" font-style="normal" fill="#000" textLength="18.95" lengthAdjust="spacingAndGlyphs" >LTM</text><g transform="translate(462,496.1) rotate(-90)"><text x="-0.76" y="0" font-size="9.4" font-weight="normal" fill="#000" textLength="90.53" lengthAdjust="spacingAndGlyphs">Reproduction Error (°)</text></g><path d="M537.3,356.5 V351.1 H633.1 V363.6" fill="none" stroke="#555" stroke-width="1.0"/><text x="563.9" y="348.6" font-size="13" font-weight="normal" font-style="italic" fill="#000" textLength="6.69" lengthAdjust="spacingAndGlyphs" >p</text><text x="572.91" y="348.6" font-size="13" font-weight="normal" font-style="normal" fill="#000" textLength="33.86" lengthAdjust="spacingAndGlyphs" >= .010</text><text x="516.9" y="369.6" font-size="13" font-weight="normal" font-style="italic" fill="#000" textLength="6.69" lengthAdjust="spacingAndGlyphs" >p</text><text x="526.33" y="369.6" font-size="13" font-weight="normal" font-style="normal" fill="#000" textLength="32.64" lengthAdjust="spacingAndGlyphs" >< .001</text><text x="612.79" y="379.9" font-size="13" font-weight="normal" font-style="italic" fill="#000" textLength="6.59" lengthAdjust="spacingAndGlyphs" >p</text><text x="621.5" y="379.9" font-size="13" font-weight="normal" font-style="normal" fill="#000" textLength="34.64" lengthAdjust="spacingAndGlyphs" >= .018</text><text x="101.28" y="620.3" font-size="21" font-weight="bold" font-style="normal" fill="#000" textLength="15.15" lengthAdjust="spacingAndGlyphs" >d</text><rect x="238" y="584.9" width="12.9" height="12.9" fill="none" stroke="#3e8a68" stroke-width="1.2" /><rect x="257.6" y="584.9" width="13.4" height="12.9" fill="none" stroke="#8d78c8" stroke-width="1.2" /><text x="281.18" y="596.1" font-size="13" font-weight="normal" font-style="normal" fill="#000" textLength="44.03" lengthAdjust="spacingAndGlyphs" >Neutral</text><rect x="346.65" y="583.75" width="14.5" height="14.4" fill="url(#lg)" stroke="#3e8a68" stroke-width="1.3" /><rect x="366.55" y="583.75" width="14.8" height="14.4" fill="url(#lp)" stroke="#8d78c8" stroke-width="1.3" /><text x="389.99" y="596.1" font-size="13" font-weight="normal" font-style="normal" fill="#000" textLength="54.99" lengthAdjust="spacingAndGlyphs" >Matching</text><path d="M187.4,625.2 V613.6 H283.3 V619.7" fill="none" stroke="#333" stroke-width="0.9"/><text x="213.9" y="611.4" font-size="13" font-weight="normal" font-style="italic" fill="#000" textLength="6.69" lengthAdjust="spacingAndGlyphs" >p</text><text x="222.91" y="611.4" font-size="13" font-weight="normal" font-style="normal" fill="#000" textLength="33.37" lengthAdjust="spacingAndGlyphs" >< .001</text><text x="167.1" y="640.3" font-size="13" font-weight="normal" font-style="italic" fill="#000" textLength="6.69" lengthAdjust="spacingAndGlyphs" >p</text><text x="175.81" y="640.3" font-size="13" font-weight="normal" font-style="normal" fill="#000" textLength="34.09" lengthAdjust="spacingAndGlyphs" >= .001</text><text x="262.1" y="631" font-size="13" font-weight="normal" font-style="italic" fill="#000" textLength="6.69" lengthAdjust="spacingAndGlyphs" >p</text><text x="271.11" y="631" font-size="13" font-weight="normal" font-style="normal" fill="#000" textLength="34" lengthAdjust="spacingAndGlyphs" >= .372</text><line x1="141.4" y1="631.4" x2="141.4" y2="819.9" stroke="#8c8c8c" stroke-width="0.9" /><line x1="141.4" y1="819.9" x2="330.8" y2="819.9" stroke="#8c8c8c" stroke-width="0.9" /><line x1="139.2" y1="819.5" x2="141.4" y2="819.5" stroke="#8c8c8c" stroke-width="0.8" /><text x="134.13" y="822.5" font-size="8.6" font-weight="normal" font-style="normal" fill="#000" textLength="4.59" lengthAdjust="spacingAndGlyphs" >0</text><line x1="139.2" y1="783.5" x2="141.4" y2="783.5" stroke="#8c8c8c" stroke-width="0.8" /><text x="129.54" y="786.5" font-size="8.6" font-weight="normal" font-style="normal" fill="#000" textLength="9.18" lengthAdjust="spacingAndGlyphs" >20</text><line x1="139.2" y1="747.5" x2="141.4" y2="747.5" stroke="#8c8c8c" stroke-width="0.8" /><text x="129.54" y="750.5" font-size="8.6" font-weight="normal" font-style="normal" fill="#000" textLength="9.18" lengthAdjust="spacingAndGlyphs" >40</text><line x1="139.2" y1="711.5" x2="141.4" y2="711.5" stroke="#8c8c8c" stroke-width="0.8" /><text x="129.54" y="714.5" font-size="8.6" font-weight="normal" font-style="normal" fill="#000" textLength="9.18" lengthAdjust="spacingAndGlyphs" >60</text><line x1="139.2" y1="675.5" x2="141.4" y2="675.5" stroke="#8c8c8c" stroke-width="0.8" /><text x="129.54" y="678.5" font-size="8.6" font-weight="normal" font-style="normal" fill="#000" textLength="9.18" lengthAdjust="spacingAndGlyphs" >80</text><line x1="139.2" y1="639.5" x2="141.4" y2="639.5" stroke="#8c8c8c" stroke-width="0.8" /><text x="124.95" y="642.5" font-size="8.6" font-weight="normal" font-style="normal" fill="#000" textLength="13.77" lengthAdjust="spacingAndGlyphs" >100</text><rect x="150.5" y="718.3" width="35.8" height="101.1" fill="none" stroke="#76ae94" stroke-width="1" /><rect x="194.3" y="710.2" width="35.8" height="109.2" fill="url(#hg)" stroke="#76ae94" stroke-width="1" /><rect x="241.8" y="699.76" width="36.2" height="119.64" fill="none" stroke="#a396dc" stroke-width="1" /><rect x="285.8" y="701.56" width="35.9" height="117.84" fill="url(#hp)" stroke="#a396dc" stroke-width="1" /><path d="M168,677L212.8,677M168,677L212.8,684.5M168,684.5L212.8,647M168,722L212.8,767M168,752L212.8,744.5M168,684.5L212.8,692M168,759.5L212.8,707M168,707L212.8,684.5M168,714.5L212.8,744.5M168,647L212.8,639.5M168,662L212.8,639.5M168,774.5L212.8,782M168,662L212.8,639.5M168,707L212.8,677M168,729.5L212.8,744.5M168,654.5L212.8,654.5M168,677L212.8,639.5M168,752L212.8,714.5M168,669.5L212.8,647M168,647L212.8,639.5M168,714.5L212.8,684.5M168,699.5L212.8,677M168,692L212.8,692M168,729.5L212.8,699.5M168,774.5L212.8,707M168,774.5L212.8,737M168,714.5L212.8,684.5M168,714.5L212.8,737M168,707L212.8,707M168,692L212.8,677M168,744.5L212.8,677M168,737L212.8,707M168,707L212.8,692M168,767L212.8,737M168,699.5L212.8,707M168,752L212.8,714.5M168,669.5L212.8,662M168,699.5L212.8,737M168,669.5L212.8,639.5M168,759.5L212.8,692M168,684.5L212.8,639.5M168,654.5L212.8,639.5M168,729.5L212.8,714.5M168,692L212.8,669.5M168,729.5L212.8,752M168,654.5L212.8,654.5M168,677L212.8,654.5M168,677L212.8,714.5M168,767L212.8,774.5M168,729.5L212.8,729.5M168,722L212.8,714.5M168,707L212.8,677M168,714.5L212.8,729.5M168,639.5L212.8,639.5M168,647L212.8,639.5M168,677L212.8,662M168,684.5L212.8,654.5M168,729.5L212.8,737M168,684.5L212.8,639.5M168,692L212.8,677M168,669.5L212.8,639.5M168,699.5L212.8,729.5M168,662L212.8,669.5M168,744.5L212.8,767M168,699.5L212.8,677M168,707L212.8,662M168,699.5L212.8,684.5M168,647L212.8,639.5M168,684.5L212.8,677M168,737L212.8,699.5M168,714.5L212.8,639.5M168,752L212.8,677M168,759.5L212.8,722M168,639.5L212.8,684.5M168,654.5L212.8,654.5M168,737L212.8,767M168,699.5L212.8,684.5M168,774.5L212.8,744.5M168,669.5L212.8,684.5M168,707L212.8,669.5M168,654.5L212.8,684.5M168,692L212.8,662M168,774.5L212.8,722M168,699.5L212.8,677M168,662L212.8,699.5M168,639.5L212.8,677M168,692L212.8,647M168,684.5L212.8,714.5M168,782L212.8,752M168,744.5L212.8,774.5M168,767L212.8,744.5M168,767L212.8,722M168,752L212.8,767M168,729.5L212.8,767M168,737L212.8,744.5M168,722L212.8,707M168,744.5L212.8,714.5M168,647L212.8,669.5M168,699.5L212.8,654.5M168,654.5L212.8,662M168,647L212.8,714.5M168,677L212.8,647M168,722L212.8,684.5M168,722L212.8,699.5M168,722L212.8,669.5M168,707L212.8,669.5M168,654.5L212.8,647M168,662L212.8,639.5M168,744.5L212.8,759.5M168,654.5L212.8,639.5M168,677L212.8,654.5M168,752L212.8,692M168,669.5L212.8,654.5M168,729.5L212.8,752M168,707L212.8,759.5M168,767L212.8,729.5M168,714.5L212.8,737M168,752L212.8,714.5M168,692L212.8,669.5M168,639.5L212.8,639.5M168,729.5L212.8,692M168,692L212.8,677M168,692L212.8,684.5M168,737L212.8,737M168,714.5L212.8,759.5M168,662L212.8,639.5M168,729.5L212.8,744.5M168,707L212.8,654.5M168,707L212.8,669.5M168,699.5L212.8,684.5M168,819.5L212.8,728.06M168,782.06L212.8,782.06M168,639.5L212.8,639.5M168,788.9L212.8,779.9M168,774.5L212.8,751.1" stroke="#8f8f8f" stroke-width="0.5" stroke-opacity="0.6" fill="none"/><path d="M259.5,699.5L303.9,684.5M259.5,707L303.9,669.5M259.5,699.5L303.9,752M259.5,654.5L303.9,639.5M259.5,654.5L303.9,639.5M259.5,684.5L303.9,639.5M259.5,639.5L303.9,722M259.5,722L303.9,677M259.5,647L303.9,654.5M259.5,714.5L303.9,744.5M259.5,699.5L303.9,639.5M259.5,722L303.9,684.5M259.5,699.5L303.9,692M259.5,647L303.9,669.5M259.5,669.5L303.9,639.5M259.5,677L303.9,744.5M259.5,737L303.9,714.5M259.5,707L303.9,677M259.5,684.5L303.9,707M259.5,714.5L303.9,684.5M259.5,662L303.9,647M259.5,684.5L303.9,684.5M259.5,692L303.9,677M259.5,699.5L303.9,707M259.5,684.5L303.9,737M259.5,654.5L303.9,654.5M259.5,744.5L303.9,707M259.5,699.5L303.9,737M259.5,677L303.9,714.5M259.5,662L303.9,647M259.5,699.5L303.9,692M259.5,774.5L303.9,744.5M259.5,699.5L303.9,707M259.5,722L303.9,707M259.5,654.5L303.9,684.5M259.5,714.5L303.9,729.5M259.5,654.5L303.9,639.5M259.5,647L303.9,654.5M259.5,714.5L303.9,714.5M259.5,662L303.9,714.5M259.5,662L303.9,639.5M259.5,654.5L303.9,669.5M259.5,662L303.9,692M259.5,714.5L303.9,684.5M259.5,662L303.9,647M259.5,699.5L303.9,729.5M259.5,714.5L303.9,759.5M259.5,639.5L303.9,729.5M259.5,684.5L303.9,722M259.5,654.5L303.9,639.5M259.5,714.5L303.9,662M259.5,692L303.9,737M259.5,662L303.9,744.5M259.5,654.5L303.9,639.5M259.5,669.5L303.9,639.5M259.5,692L303.9,677M259.5,677L303.9,647M259.5,677L303.9,654.5M259.5,684.5L303.9,714.5M259.5,737L303.9,684.5M259.5,699.5L303.9,707M259.5,714.5L303.9,767M259.5,752L303.9,714.5M259.5,669.5L303.9,774.5M259.5,744.5L303.9,737M259.5,662L303.9,639.5M259.5,684.5L303.9,639.5M259.5,677L303.9,662M259.5,707L303.9,647M259.5,729.5L303.9,677M259.5,707L303.9,669.5M259.5,669.5L303.9,639.5M259.5,647L303.9,639.5M259.5,722L303.9,759.5M259.5,714.5L303.9,752M259.5,714.5L303.9,744.5M259.5,722L303.9,752M259.5,699.5L303.9,707M259.5,684.5L303.9,684.5M259.5,677L303.9,647M259.5,669.5L303.9,639.5M259.5,744.5L303.9,782M259.5,767L303.9,782M259.5,699.5L303.9,737M259.5,647L303.9,692M259.5,684.5L303.9,639.5M259.5,662L303.9,639.5M259.5,692L303.9,707M259.5,647L303.9,639.5M259.5,647L303.9,639.5M259.5,677L303.9,639.5M259.5,639.5L303.9,669.5M259.5,669.5L303.9,639.5M259.5,714.5L303.9,669.5M259.5,662L303.9,722M259.5,714.5L303.9,744.5M259.5,692L303.9,699.5M259.5,707L303.9,714.5M259.5,714.5L303.9,752M259.5,677L303.9,639.5M259.5,699.5L303.9,707M259.5,662L303.9,639.5M259.5,752L303.9,677M259.5,744.5L303.9,699.5M259.5,662L303.9,662M259.5,774.5L303.9,737M259.5,684.5L303.9,669.5M259.5,707L303.9,699.5M259.5,654.5L303.9,654.5M259.5,759.5L303.9,767M259.5,707L303.9,707M259.5,654.5L303.9,639.5M259.5,692L303.9,707M259.5,722L303.9,714.5M259.5,677L303.9,707M259.5,669.5L303.9,692M259.5,699.5L303.9,692M259.5,684.5L303.9,662M259.5,722L303.9,699.5M259.5,714.5L303.9,662M259.5,647L303.9,639.5M259.5,692L303.9,669.5M259.5,737L303.9,722M259.5,714.5L303.9,714.5M259.5,639.5L303.9,639.5M259.5,639.5L303.9,639.5M259.5,788.9L303.9,756.5M259.5,760.1L303.9,792.5M259.5,767.3L303.9,774.5M259.5,781.7L303.9,743.9" stroke="#8f8f8f" stroke-width="0.5" stroke-opacity="0.6" fill="none"/><line x1="190.4" y1="819.9" x2="190.4" y2="822.2" stroke="#8c8c8c" stroke-width="0.8" /><line x1="282.4" y1="819.9" x2="282.4" y2="822.2" stroke="#8c8c8c" stroke-width="0.8" /><text x="182.76" y="827.7" font-size="8.9" font-weight="normal" font-style="normal" fill="#000" textLength="15.45" lengthAdjust="spacingAndGlyphs" >WM</text><text x="273.19" y="827.8" font-size="8.9" font-weight="normal" font-style="normal" fill="#000" textLength="17.43" lengthAdjust="spacingAndGlyphs" >LTM</text><g transform="translate(122.4,750.3) rotate(-90)"><text x="-0.02" y="0" font-size="9.4" font-weight="normal" fill="#000" textLength="50.54" lengthAdjust="spacingAndGlyphs">Accuracy (%)</text></g><line x1="385.4" y1="611.9" x2="385.4" y2="819.4" stroke="#a8a8a8" stroke-width="0.9" /><line x1="383.4" y1="800.22" x2="385" y2="800.22" stroke="#999" stroke-width="0.7" /><text x="365.58" y="803.57" font-size="9.4" font-weight="normal" font-style="normal" fill="#000" textLength="17.22" lengthAdjust="spacingAndGlyphs" >−40</text><line x1="383.4" y1="768.76" x2="385" y2="768.76" stroke="#999" stroke-width="0.7" /><text x="365.58" y="772.11" font-size="9.4" font-weight="normal" font-style="normal" fill="#000" textLength="17.22" lengthAdjust="spacingAndGlyphs" >−20</text><line x1="383.4" y1="737.3" x2="385" y2="737.3" stroke="#999" stroke-width="0.7" /><text x="377.15" y="740.65" font-size="9.4" font-weight="normal" font-style="normal" fill="#000" textLength="5.65" lengthAdjust="spacingAndGlyphs" >0</text><line x1="383.4" y1="705.84" x2="385" y2="705.84" stroke="#999" stroke-width="0.7" /><text x="371.5" y="709.19" font-size="9.4" font-weight="normal" font-style="normal" fill="#000" textLength="11.29" lengthAdjust="spacingAndGlyphs" >20</text><line x1="383.4" y1="674.38" x2="385" y2="674.38" stroke="#999" stroke-width="0.7" /><text x="371.5" y="677.73" font-size="9.4" font-weight="normal" font-style="normal" fill="#000" textLength="11.29" lengthAdjust="spacingAndGlyphs" >40</text><line x1="383.4" y1="642.92" x2="385" y2="642.92" stroke="#999" stroke-width="0.7" /><text x="371.5" y="646.27" font-size="9.4" font-weight="normal" font-style="normal" fill="#000" textLength="11.29" lengthAdjust="spacingAndGlyphs" >60</text><g transform="translate(363.6,759.1) rotate(-90)"><text x="-0.02" y="0" font-size="10.2" font-weight="normal" fill="#000" textLength="87.1" lengthAdjust="spacingAndGlyphs">Accuracy benefit (%)</text></g><path d="M489.4,620.6 C489.33,623.83 489.17,634.27 489,640 C488.83,645.73 488.62,651.55 488.4,655 C488.18,658.45 488.25,658.07 487.7,660.7 C487.15,663.33 486.38,667.42 485.1,670.8 C483.82,674.18 482.1,677.62 480,681 C477.9,684.38 475.23,687.93 472.5,691.1 C469.77,694.27 467.62,697.47 463.6,700 C459.58,702.53 453.9,704.4 448.4,706.3 C442.9,708.2 436.52,709.7 430.6,711.4 C424.68,713.1 417.75,714.82 412.9,716.5 C408.05,718.18 404.38,719.82 401.5,721.5 C398.62,723.18 396.75,724.9 395.6,726.6 C394.45,728.3 394.25,730.02 394.6,731.7 C394.95,733.38 395.92,735.02 397.7,736.7 C399.48,738.38 401.92,740.1 405.3,741.8 C408.68,743.5 412.93,745.2 418,746.9 C423.07,748.6 430.22,750.32 435.7,752 C441.18,753.68 446.25,755.32 450.9,757 C455.55,758.68 459.8,760.4 463.6,762.1 C467.4,763.8 470.75,765.08 473.7,767.2 C476.65,769.32 479.27,771.85 481.3,774.8 C483.33,777.75 484.83,781.53 485.9,784.9 C486.97,788.27 487.12,790.77 487.7,795 C488.28,799.23 489.12,807.75 489.4,810.3 Z" fill="url(#vg)" stroke="#76ae94" stroke-width="0.6"/><path d="M489.5,668.1 C490.1,670.37 492.03,677.92 493.1,681.7 C494.17,685.48 494.83,688.38 495.9,690.8 C496.97,693.22 497.4,694.55 499.5,696.2 C501.6,697.85 504.88,699.2 508.5,700.7 C512.12,702.2 516.07,703.38 521.2,705.2 C526.33,707.02 533.27,709.63 539.3,711.6 C545.33,713.57 552.28,715.2 557.4,717 C562.52,718.8 566.83,720.6 570,722.4 C573.17,724.2 574.88,726.13 576.4,727.8 C577.92,729.47 577.9,730.73 579.1,732.4 C580.3,734.07 582.7,736.15 583.6,737.8 C584.5,739.45 584.95,740.63 584.5,742.3 C584.05,743.97 583.32,746.13 580.9,747.8 C578.48,749.47 574.52,750.5 570,752.3 C565.48,754.1 559.52,756.5 553.8,758.6 C548.08,760.7 541.73,762.63 535.7,764.9 C529.67,767.17 523.03,769.78 517.6,772.2 C512.17,774.62 507.03,776.98 503.1,779.4 C499.17,781.82 496.12,784.28 494,786.7 C491.88,789.12 491.15,791.8 490.4,793.9 C489.65,796 489.65,798.4 489.5,799.3 Z" fill="url(#vp)" stroke="#a396dc" stroke-width="0.6"/><line x1="386" y1="737.3" x2="593.5" y2="737.3" stroke="#999" stroke-width="0.8" /><circle cx="442.0" cy="729.8" r="1.1" fill="none" stroke="#333" stroke-width="0.6"/><circle cx="537.5" cy="738.6" r="1.1" fill="none" stroke="#333" stroke-width="0.6"/><line x1="385" y1="819.4" x2="593.5" y2="819.4" stroke="#a8a8a8" stroke-width="0.9" /><line x1="441.7" y1="819.4" x2="441.7" y2="821.2" stroke="#999" stroke-width="0.7" /><line x1="537.3" y1="819.4" x2="537.3" y2="821.2" stroke="#999" stroke-width="0.7" /><text x="433.86" y="829" font-size="10" font-weight="normal" font-style="normal" fill="#000" textLength="17.34" lengthAdjust="spacingAndGlyphs" >WM</text><text x="527.81" y="829" font-size="10" font-weight="normal" font-style="normal" fill="#000" textLength="19.28" lengthAdjust="spacingAndGlyphs" >LTM</text>
</svg>
</body></html>
